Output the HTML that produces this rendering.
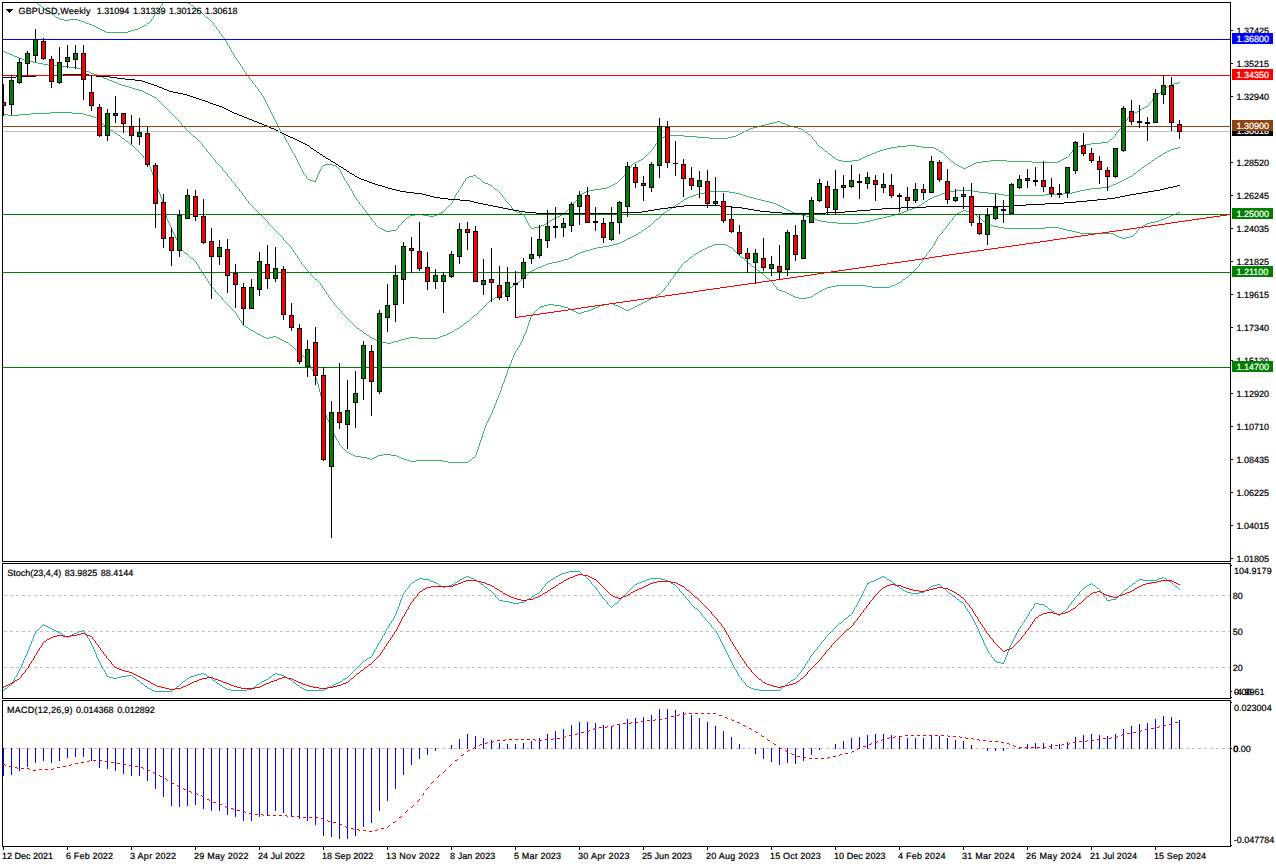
<!DOCTYPE html><html><head><meta charset="utf-8"><title>GBPUSD Weekly</title><style>html,body{margin:0;padding:0;background:#fff;}body{width:1276px;height:867px;overflow:hidden;font-family:"Liberation Sans",sans-serif;}</style></head><body><svg width="1276" height="867" viewBox="0 0 1276 867" shape-rendering="crispEdges" style="display:block">
<rect width="1276" height="867" fill="#fff"/>
<defs><clipPath id="cm"><rect x="3" y="3" width="1227" height="558"/></clipPath><clipPath id="cs"><rect x="3" y="564" width="1227" height="134"/></clipPath><clipPath id="cd"><rect x="3" y="701" width="1227" height="145"/></clipPath></defs>
<g clip-path="url(#cm)">
<path d="M89 24.5h3M81 21.5h3M52 14.5h2M106 32.5h22M58 18.5h2M60 19.5h4M69 19.5h9M96 27.5h2M140 27.5h2M64 20.5h5M78 20.5h3M86 23.5h3M147 23.5h2M102 30.5h2M131 30.5h3M98 28.5h2M138 28.5h2M47 11.5h2M84 22.5h2M104 31.5h2M128 31.5h3M39 5.5h2M44 9.5h2M100 29.5h2M134 29.5h4M92 25.5h2M144 25.5h2M56 17.5h2M94 26.5h2M142 26.5h2M49 12.5h2M153.5 16v2M37.5 3v1M155.5 13v1M157.5 10v2M158.5 9v1M160.5 6v2M162.5 3v2M41.5 6v1M163.5 2v1M51.5 13v1M38.5 4v1M154.5 14v2M54.5 15v1M55.5 16v1M42.5 7v1M43.5 8v1M151.5 19v2M46.5 10v1M146.5 24v1M36.5 2v1M150.5 21v1M152.5 18v1M164.5 1v1M149.5 22v1M156.5 12v1M159.5 8v1M161.5 5v1" fill="none" stroke="#3cb371" stroke-width="1"/>
<path d="M586 191.5h3M478 178.5h2M757 126.5h4M790 126.5h4M541 225.5h3M1091 143.5h10M407 217.5h2M556 217.5h2M765 124.5h4M785 124.5h2M897 146.5h10M916 146.5h6M1078 146.5h3M635 162.5h2M976 162.5h6M1032 162.5h26M744 131.5h2M467 177.5h2M488 184.5h2M613 184.5h2M861 158.5h2M1064 158.5h2M875 152.5h2M941 152.5h2M429 216.5h5M558 216.5h2M386 231.5h5M666 135.5h18M736 135.5h2M378 227.5h2M534 227.5h5M637 161.5h2M842 161.5h10M951 161.5h2M982 161.5h8M1007 161.5h25M1058 161.5h2M753 127.5h4M794 127.5h4M820 147.5h2M891 147.5h6M922 147.5h12M1076 147.5h2M907 145.5h9M1081 145.5h4M740 133.5h2M865 156.5h2M664 136.5h2M684 136.5h13M732 136.5h4M709 138.5h19M773 122.5h4M780 122.5h2M639 160.5h2M838 160.5h4M852 160.5h7M990 160.5h17M1060 160.5h2M1174 83.5h4M439 213.5h2M520 213.5h2M382 229.5h2M961 167.5h2M966 167.5h2M495 189.5h2M594 189.5h7M473 175.5h3M589 190.5h5M582 193.5h2M410 215.5h5M423 215.5h6M434 215.5h3M560 215.5h2M761 125.5h4M787 125.5h3M1142 108.5h2M887 148.5h4M934 148.5h2M1074 148.5h2M963 168.5h3M313 181.5h3M750 128.5h3M798 128.5h3M325 164.5h8M955 164.5h2M972 164.5h2M380 228.5h2M531 228.5h3M609 186.5h2M867 155.5h3M748 129.5h2M801 129.5h2M1085 144.5h6M1158 93.5h2M959 166.5h2M968 166.5h2M633 163.5h2M974 163.5h2M1137 111.5h2M384 230.5h2M391 230.5h5M308 179.5h2M323 165.5h2M333 165.5h3M957 165.5h2M970 165.5h2M825 151.5h2M877 151.5h3M939 151.5h2M1167 86.5h2M833 157.5h2M863 157.5h2M1066 157.5h2M469 176.5h4M662 137.5h2M697 137.5h12M728 137.5h4M415 214.5h8M437 214.5h2M522 214.5h2M562 214.5h2M1101 142.5h7M485 183.5h3M615 183.5h2M601 188.5h6M883 149.5h4M936 149.5h2M441 212.5h2M517 212.5h3M1110 139.5h2M829 154.5h2M870 154.5h2M483 182.5h2M746 130.5h2M1140 109.5h2M539 226.5h2M742 132.5h2M805 132.5h2M641 159.5h2M836 159.5h2M859 159.5h2M1062 159.5h2M769 123.5h4M782 123.5h3M1171 84.5h3M1178 82.5h2M1163 89.5h2M584 192.5h2M195 8.5h2M1130 115.5h2M738 134.5h2M808 134.5h2M1135 112.5h2M515 211.5h2M777 121.5h3M550 220.5h2M490 185.5h2M611 185.5h2M206 17.5h2M554 218.5h2M1144 107.5h2M1132 114.5h2M191 5.5h2M1146 106.5h2M188 3.5h2M310 180.5h3M546 223.5h2M580 194.5h2M1169 85.5h2M544 224.5h2M872 153.5h3M198 10.5h2M607 187.5h2M552 219.5h2M880 150.5h3M458.5 190v2M511.5 206v2M344.5 178v2M1121.5 126v2M288.5 143v2M525.5 217v2M359.5 202v2M622.5 177v1M277.5 124v2M1157.5 94v1M230.5 48v2M340.5 170v2M238.5 61v2M348.5 184v2M1071.5 152v1M369.5 216v1M341.5 172v2M370.5 217v1M234.5 55v2M645.5 156v1M271.5 112v2M1152.5 99v2M1155.5 96v1M274.5 118v2M252.5 81v2M303.5 172v2M564.5 213v1M396.5 229v1M630.5 167v1M256.5 87v1M656.5 143v1M454.5 197v2M351.5 189v2M625.5 173v2M1108.5 141v1M212.5 22v1M284.5 136v2M1124.5 122v2M273.5 116v2M226.5 41v2M461.5 186v1M302.5 170v2M502.5 195v2M229.5 46v2M237.5 60v1M450.5 204v1M945.5 155v1M503.5 197v1M201.5 12v1M812.5 137v2M251.5 80v1M306.5 176v2M241.5 66v1M399.5 225v1M270.5 110v2M465.5 179v2M299.5 164v2M571.5 206v1M255.5 85v2M1120.5 128v1M548.5 222v1M510.5 205v1M819.5 146v1M347.5 183v1M1112.5 138v1M197.5 9v1M350.5 188v1M358.5 201v1M1139.5 110v1M200.5 11v1M453.5 199v2M343.5 176v2M240.5 64v2M660.5 139v1M362.5 206v2M233.5 53v2M944.5 154v1M835.5 158v1M215.5 26v1M236.5 58v2M244.5 70v2M574.5 202v1M373.5 221v1M617.5 182v1M652.5 149v1M317.5 175v3M269.5 108v2M298.5 162v2M506.5 201v1M320.5 169v2M445.5 209v1M457.5 192v1M403.5 221v1M214.5 25v1M513.5 209v1M346.5 181v2M1115.5 134v2M276.5 122v2M566.5 211v1M398.5 226v2M239.5 63v1M811.5 136v1M272.5 114v2M655.5 144v2M644.5 157v1M301.5 168v2M1151.5 101v1M372.5 220v1M243.5 69v1M624.5 175v1M254.5 84v1M305.5 175v1M1123.5 124v1M258.5 89v2M452.5 201v2M360.5 204v1M647.5 154v1M1068.5 156v1M361.5 205v1M807.5 133v1M573.5 203v2M275.5 120v2M1154.5 97v1M304.5 174v1M464.5 181v1M505.5 199v2M319.5 171v2M300.5 166v2M371.5 218v2M268.5 106v2M627.5 171v1M460.5 187v2M187.5 2v1M443.5 211v1M619.5 180v1M316.5 178v2M1161.5 91v1M401.5 223v1M213.5 23v2M242.5 67v2M202.5 13v1M1165.5 88v1M217.5 29v1M246.5 73v2M456.5 193v2M504.5 198v1M375.5 223v2M307.5 178v1M1114.5 136v1M1149.5 103v2M1117.5 132v1M297.5 160v2M257.5 88v1M814.5 140v1M803.5 130v1M261.5 93v2M290.5 147v2M527.5 221v2M293.5 153v1M216.5 27v2M1134.5 113v1M576.5 200v1M654.5 146v1M497.5 190v1M946.5 156v1M813.5 139v1M447.5 207v1M623.5 176v1M405.5 219v1M1122.5 125v1M649.5 152v1M374.5 222v1M267.5 104v2M296.5 158v2M264.5 98v2M568.5 209v1M318.5 173v2M463.5 182v2M260.5 92v1M646.5 155v1M832.5 156v1M289.5 145v2M657.5 142v1M363.5 208v1M245.5 72v1M1148.5 105v1M1125.5 121v1M220.5 33v1M249.5 77v2M322.5 166v1M507.5 202v1M292.5 151v2M194.5 7v1M492.5 186v1M817.5 144v1M295.5 156v2M1156.5 95v1M208.5 18v1M1070.5 153v1M831.5 155v1M514.5 210v1M493.5 187v1M953.5 162v1M653.5 147v2M209.5 19v1M285.5 138v2M1160.5 92v1M400.5 224v1M526.5 219v2M219.5 31v2M466.5 178v1M579.5 195v1M278.5 126v2M281.5 131v2M626.5 172v1M1109.5 140v1M629.5 168v1M193.5 6v1M816.5 142v2M661.5 138v1M481.5 180v1M1113.5 137v1M266.5 102v2M248.5 76v1M462.5 184v2M621.5 178v1M259.5 91v1M377.5 226v1M938.5 150v1M291.5 149v2M528.5 223v2M263.5 96v2M529.5 225v1M449.5 205v1M575.5 201v1M336.5 166v1M365.5 210v2M218.5 30v1M337.5 167v1M632.5 164v1M366.5 212v1M1128.5 117v1M570.5 207v1M203.5 14v1M1116.5 133v1M222.5 36v1M480.5 179v1M499.5 192v1M648.5 153v1M204.5 15v1M815.5 141v1M827.5 152v1M265.5 100v2M376.5 225v1M294.5 154v2M1073.5 149v1M578.5 196v2M262.5 95v1M321.5 167v2M498.5 191v1M364.5 209v1M651.5 150v1M247.5 75v1M947.5 157v1M567.5 210v1M948.5 158v1M1162.5 90v1M402.5 222v1M804.5 131v1M659.5 140v1M565.5 212v1M354.5 195v2M286.5 140v2M628.5 169v2M494.5 188v1M1127.5 118v2M279.5 128v2M210.5 20v1M822.5 148v1M287.5 142v1M524.5 215v2M476.5 176v1M221.5 34v2M280.5 130v1M211.5 21v1M823.5 149v1M1119.5 129v1M444.5 210v1M409.5 216v1M1069.5 154v2M1072.5 150v2M1166.5 87v1M577.5 198v2M620.5 179v1M250.5 79v1M530.5 226v2M509.5 204v1M282.5 133v2M1150.5 102v1M353.5 193v2M397.5 228v1M283.5 135v1M954.5 163v1M357.5 200v1M368.5 214v2M339.5 169v1M224.5 38v2M232.5 52v1M459.5 189v1M508.5 203v1M828.5 153v1M225.5 40v1M818.5 145v1M448.5 206v1M315.5 180v1M631.5 165v2M406.5 218v1M356.5 198v2M643.5 158v1M455.5 195v2M349.5 186v2M1118.5 130v2M1153.5 98v1M549.5 221v1M352.5 191v2M569.5 208v1M231.5 50v2M342.5 174v2M345.5 180v1M943.5 153v1M227.5 43v2M338.5 168v1M235.5 57v1M367.5 213v1M451.5 203v1M482.5 181v1M228.5 45v1M949.5 159v1M205.5 16v1M658.5 141v1M253.5 83v1M950.5 160v1M572.5 205v1M618.5 181v1M650.5 151v1M512.5 208v1M190.5 4v1M404.5 220v1M824.5 150v1M223.5 37v1M500.5 193v1M501.5 194v1M810.5 135v1M1126.5 120v1M1129.5 116v1M477.5 177v1M446.5 208v1M355.5 197v1" fill="none" stroke="#3cb371" stroke-width="1"/>
<path d="M450 332.5h2M817 220.5h4M870 220.5h4M1101 187.5h8M77 68.5h4M678 203.5h2M773 203.5h3M922 203.5h2M33 62.5h5M827 222.5h10M859 222.5h6M474 315.5h2M1145 165.5h2M693 195.5h3M743 195.5h3M937 195.5h3M1004 195.5h41M1142 167.5h2M670 208.5h2M784 208.5h2M912 208.5h3M704 192.5h6M729 192.5h6M946 192.5h4M979 192.5h9M1072 192.5h4M1130 176.5h2M810 217.5h2M883 217.5h4M552 262.5h5M696 194.5h3M740 194.5h3M940 194.5h2M998 194.5h6M1045 194.5h18M603 246.5h6M686 198.5h2M753 198.5h4M930 198.5h2M794 213.5h4M898 213.5h3M1091 188.5h10M81 69.5h3M837 223.5h22M370 337.5h2M409 337.5h9M438 337.5h2M576 254.5h2M628 238.5h2M1134 173.5h2M1126 178.5h2M10 54.5h2M586 250.5h4M1158 156.5h2M460 326.5h2M798 214.5h4M895 214.5h3M681 201.5h2M765 201.5h4M925 201.5h2M1138 170.5h2M372 338.5h2M405 338.5h4M418 338.5h20M645 228.5h2M673 206.5h2M780 206.5h2M917 206.5h2M387 343.5h4M710 191.5h19M950 191.5h5M973 191.5h6M1076 191.5h4M806 216.5h4M887 216.5h4M89 72.5h2M5 52.5h2M676 204.5h2M776 204.5h2M38 63.5h5M48 65.5h9M802 215.5h4M891 215.5h4M378 341.5h4M394 341.5h4M684 199.5h2M757 199.5h4M928 199.5h2M84 70.5h2M597 247.5h6M43 64.5h5M57 66.5h12M24 60.5h4M14 56.5h3M580 252.5h3M129 87.5h3M955 190.5h18M1080 190.5h5M613 244.5h4M761 200.5h4M812 218.5h3M878 218.5h5M17 57.5h2M452 331.5h2M7 53.5h3M821 221.5h6M865 221.5h5M69 67.5h8M572 256.5h2M624 240.5h2M132 88.5h3M464 323.5h2M699 193.5h5M735 193.5h5M942 193.5h4M988 193.5h10M1063 193.5h9M1122 180.5h2M357 328.5h2M457 328.5h2M364 333.5h2M448 333.5h2M642 230.5h2M634 235.5h2M1128 177.5h2M12 55.5h2M538 267.5h3M99 76.5h3M376 340.5h2M398 340.5h3M440 336.5h3M1171 149.5h3M564 259.5h4M495 297.5h2M593 248.5h4M28 61.5h5M91 73.5h3M561 260.5h3M507 289.5h2M152 96.5h2M543 265.5h3M144 92.5h2M500 294.5h2M492 299.5h2M690 196.5h3M746 196.5h3M934 196.5h3M94 74.5h3M135 89.5h4M1109 186.5h2M86 71.5h3M568 258.5h2M778 205.5h2M919 205.5h2M148 94.5h2M548 263.5h4M139 90.5h3M1118 182.5h2M632 236.5h2M367 335.5h2M443 335.5h3M630 237.5h2M1178 147.5h2M790 211.5h2M904 211.5h3M1124 179.5h2M534 269.5h2M1160 155.5h2M114 82.5h3M104 78.5h3M557 261.5h4M664 212.5h2M792 212.5h2M901 212.5h3M107 79.5h2M530 271.5h2M583 251.5h3M1085 189.5h6M609 245.5h4M109 80.5h3M382 342.5h5M391 342.5h3M154 97.5h2M656 219.5h2M815 219.5h2M874 219.5h4M688 197.5h2M749 197.5h4M932 197.5h2M769 202.5h4M102 77.5h2M782 207.5h2M915 207.5h2M112 81.5h2M626 239.5h2M1120 181.5h2M786 209.5h2M909 209.5h3M622 241.5h2M1116 183.5h2M1148 163.5h2M117 83.5h2M467 321.5h2M590 249.5h3M524 276.5h2M636 234.5h2M315 279.5h2M541 266.5h2M648 226.5h2M490 300.5h2M125 86.5h4M1174 148.5h4M1169 150.5h2M536 268.5h2M517 282.5h2M570 257.5h2M455 329.5h2M514 284.5h2M119 84.5h3M1155 158.5h2M446 334.5h2M617 243.5h3M360 330.5h2M667 210.5h2M788 210.5h2M907 210.5h2M122 85.5h3M3 51.5h2M510 287.5h2M1167 151.5h2M532 270.5h2M1111 185.5h2M22 59.5h2M374 339.5h2M401 339.5h4M620 242.5h2M97 75.5h2M1163 153.5h2M19 58.5h3M504 291.5h2M1113 184.5h3M146 93.5h2M578 253.5h2M150 95.5h2M142 91.5h2M639 232.5h2M1152 160.5h2M574 255.5h2M193 136.5h2M1165 152.5h2M546 264.5h2M497 296.5h2M655.5 220v1M278.5 233v1M348.5 319v1M219.5 165v1M182.5 125v1M330.5 298v2M659.5 217v1M263.5 217v1M242.5 193v2M1154.5 159v1M311.5 275v1M183.5 126v1M189.5 132v1M201.5 143v1M340.5 310v1M190.5 133v1M519.5 281v1M212.5 157v1M175.5 117v1M241.5 192v1M310.5 273v2M222.5 168v2M223.5 170v1M252.5 206v1M650.5 225v1M355.5 326v1M469.5 320v1M156.5 98v1M229.5 177v1M347.5 318v1M230.5 178v1M369.5 336v1M299.5 259v2M240.5 191v1M488.5 302v1M303.5 265v1M332.5 301v1M215.5 160v2M523.5 277v1M354.5 325v1M472.5 317v1M251.5 205v1M476.5 314v1M281.5 236v1M203.5 146v1M1133.5 174v1M204.5 147v1M661.5 215v1M273.5 228v1M288.5 244v1M317.5 280v1M1137.5 171v1M258.5 212v1M654.5 221v1M318.5 281v1M1141.5 168v1M259.5 213v1M527.5 274v1M163.5 105v1M243.5 195v1M196.5 138v1M265.5 219v1M244.5 196v1M502.5 293v1M924.5 202v1M494.5 298v1M185.5 128v1M483.5 307v1M266.5 220v1M506.5 290v1M170.5 112v1M232.5 181v1M162.5 104v1M459.5 327v1M669.5 209v1M233.5 182v1M195.5 137v1M214.5 159v1M177.5 119v1M306.5 269v1M335.5 305v1M169.5 111v1M280.5 235v1M350.5 321v1M312.5 276v1M221.5 167v1M184.5 127v1M521.5 279v1M313.5 277v1M342.5 313v1M641.5 231v1M206.5 149v2M191.5 134v1M463.5 324v1M301.5 262v2M349.5 320v1M291.5 247v2M320.5 283v2M213.5 158v1M478.5 312v1M305.5 267v2M334.5 303v2M652.5 223v1M471.5 318v1M356.5 327v1M268.5 222v2M341.5 311v2M224.5 171v1M253.5 207v1M231.5 179v2M254.5 208v1M176.5 118v1M158.5 100v1M235.5 184v2M319.5 282v1M260.5 214v1M333.5 302v1M261.5 215v1M165.5 107v1M663.5 213v1M283.5 238v2M246.5 199v1M683.5 200v1M1147.5 164v1M675.5 205v1M198.5 140v1M157.5 99v1M1151.5 161v1M289.5 245v1M1132.5 175v1M529.5 272v1M172.5 114v1M205.5 148v1M290.5 246v1M274.5 229v1M293.5 250v2M512.5 286v1M164.5 106v1M275.5 230v1M304.5 266v1M323.5 288v1M245.5 197v2M216.5 162v1M485.5 305v1M516.5 283v1M197.5 139v1M482.5 308v1M520.5 280v1M282.5 237v1M314.5 278v1M267.5 221v1M344.5 315v1M227.5 174v2M473.5 316v1M462.5 325v1M454.5 330v1M658.5 218v1M647.5 227v1M322.5 286v2M234.5 183v1M651.5 224v1M326.5 292v2M307.5 270v1M336.5 306v1M248.5 201v2M186.5 129v1M366.5 334v1M337.5 307v1M249.5 203v1M171.5 113v1M343.5 314v1M480.5 310v1M477.5 313v1M329.5 297v1M208.5 152v1M256.5 210v1M178.5 120v1M351.5 322v1M362.5 331v1M489.5 301v1M285.5 241v1M269.5 224v1M207.5 151v1M487.5 303v1M270.5 225v1M192.5 135v1M499.5 295v1M292.5 249v1M321.5 285v1M255.5 209v1M295.5 253v2M324.5 289v2M236.5 186v1M1157.5 157v1M296.5 255v1M325.5 291v1M662.5 214v1M237.5 187v1M277.5 232v1M218.5 164v1M262.5 216v1M1150.5 162v1M284.5 240v1M225.5 172v1M653.5 222v1M226.5 173v1M503.5 292v1M159.5 101v1M484.5 306v1M210.5 154v2M328.5 295v2M211.5 156v1M181.5 123v2M217.5 163v1M166.5 108v1M247.5 200v1M167.5 109v1M199.5 141v1M660.5 216v1M200.5 142v1M339.5 309v1M1136.5 172v1M173.5 115v1M638.5 233v1M522.5 278v1M345.5 316v1M294.5 252v1M174.5 116v1M526.5 275v1M346.5 317v1M276.5 231v1M327.5 294v1M298.5 258v1M239.5 189v2M352.5 323v1M331.5 300v1M353.5 324v1M479.5 311v1M187.5 130v1M338.5 308v1M250.5 204v1M188.5 131v1M1140.5 169v1M228.5 176v1M466.5 322v1M680.5 202v1M1144.5 166v1M672.5 207v1M302.5 264v1M179.5 121v1M927.5 200v1M308.5 271v1M644.5 229v1M180.5 122v1M509.5 288v1M309.5 272v1M486.5 304v1M513.5 285v1M202.5 144v2M286.5 242v1M470.5 319v1M297.5 256v2M287.5 243v1M160.5 102v1M209.5 153v1M257.5 211v1M161.5 103v1M272.5 227v1M363.5 332v1M264.5 218v1M1162.5 154v1M279.5 234v1M168.5 110v1M528.5 273v1M220.5 166v1M921.5 204v1M271.5 226v1M481.5 309v1M359.5 329v1M666.5 211v1M300.5 261v1M238.5 188v1" fill="none" stroke="#3cb371" stroke-width="1"/>
<path d="M895 284.5h2M827 287.5h4M872 287.5h18M31 113.5h19M72 113.5h12M353 455.5h2M378 455.5h5M391 455.5h6M1004 228.5h41M1059 228.5h4M548 304.5h6M604 304.5h5M613 304.5h2M639 304.5h2M906 277.5h2M407 460.5h3M416 460.5h27M469 460.5h2M8 115.5h11M87 115.5h4M787 293.5h2M816 293.5h2M831 286.5h5M866 286.5h6M890 286.5h2M256 333.5h2M264 337.5h2M269 337.5h4M276 337.5h2M370 459.5h2M404 459.5h3M963 210.5h3M568 308.5h2M593 308.5h2M622 308.5h2M631 308.5h2M777 289.5h2M823 289.5h2M998 227.5h6M1045 227.5h14M1140 227.5h2M690 257.5h2M741 257.5h2M574 311.5h2M584 311.5h4M351 454.5h2M383 454.5h8M576 312.5h2M581 312.5h3M957 213.5h2M1176 213.5h2M643 302.5h2M1122 238.5h4M191 258.5h2M539 307.5h2M564 307.5h4M595 307.5h3M620 307.5h2M633 307.5h2M570 309.5h2M591 309.5h2M624 309.5h2M629 309.5h2M705 248.5h2M714 244.5h12M130 144.5h2M703 249.5h2M651 298.5h2M799 298.5h8M262 336.5h2M273 336.5h3M3 114.5h5M19 114.5h12M84 114.5h3M993 226.5h5M355 456.5h6M376 456.5h2M397 456.5h2M987 223.5h2M1147 223.5h3M1072 231.5h4M541 306.5h3M561 306.5h3M598 306.5h2M618 306.5h2M635 306.5h2M985 222.5h2M1150 222.5h5M897 283.5h2M361 457.5h6M374 457.5h2M399 457.5h2M473 457.5h2M544 305.5h4M554 305.5h7M600 305.5h4M615 305.5h3M637 305.5h2M448 462.5h20M685 261.5h2M709 246.5h3M728 246.5h2M836 285.5h30M892 285.5h3M367 458.5h3M372 458.5h2M401 458.5h3M757 270.5h2M645 301.5h2M1169 216.5h2M572 310.5h2M588 310.5h3M626 310.5h3M1113 234.5h2M1080 233.5h33M1076 232.5h4M959 212.5h2M970 212.5h3M1178 212.5h2M707 247.5h2M730 247.5h2M50 112.5h22M290 345.5h2M903 279.5h2M785 292.5h2M782 291.5h3M819 291.5h2M266 338.5h3M278 338.5h2M1171 215.5h2M282 340.5h2M991 225.5h2M1143 225.5h2M761 273.5h2M712 245.5h2M726 245.5h2M752 266.5h2M286 342.5h2M658 294.5h2M789 294.5h2M814 294.5h2M1063 229.5h4M979 218.5h2M1164 218.5h2M1161 219.5h3M793 296.5h2M811 296.5h2M578 313.5h3M983 221.5h2M1155 221.5h4M961 211.5h2M966 211.5h4M974 214.5h2M1173 214.5h3M1067 230.5h5M825 288.5h2M699 251.5h2M410 461.5h6M443 461.5h5M779 290.5h3M821 290.5h2M258 334.5h2M701 250.5h2M653 297.5h2M795 297.5h4M807 297.5h4M284 341.5h2M767 278.5h2M748 263.5h2M609 303.5h4M641 303.5h2M253 331.5h2M246 327.5h2M1166 217.5h3M1119 237.5h3M1126 237.5h4M694 254.5h2M185 253.5h2M696 253.5h2M1159 220.5h2M649 299.5h2M296 350.5h2M280 339.5h2M1117 236.5h2M1130 236.5h3M251 330.5h2M94 117.5h2M1115 235.5h2M899 282.5h2M260 335.5h2M98 120.5h2M249 329.5h2M656 295.5h2M791 295.5h2M91 116.5h3M244 326.5h2M647 300.5h2M349 453.5h2M108 128.5h2M126 141.5h2M104 125.5h2M122 138.5h2M347 452.5h2M989 224.5h2M1145 224.5h2M115 133.5h2M111 130.5h2M118 135.5h2M155.5 181v3M294.5 348v1M326.5 415v3M136.5 149v1M502.5 384v3M477.5 449v3M939.5 235v1M668.5 283v2M179.5 244v2M336.5 438v2M506.5 373v3M481.5 437v3M208.5 281v2M531.5 315v2M763.5 274v1M680.5 267v1M527.5 326v3M955.5 215v1M337.5 440v1M513.5 355v3M340.5 445v1M219.5 295v1M143.5 156v2M234.5 311v1M333.5 432v2M165.5 211v4M526.5 329v3M158.5 189v3M493.5 408v2M530.5 317v3M147.5 162v2M323.5 404v3M121.5 137v1M168.5 221v2M660.5 293v1M319.5 388v4M329.5 422v3M935.5 241v2M309.5 363v2M1136.5 231v2M102.5 123v1M510.5 363v2M312.5 369v2M322.5 400v4M211.5 286v1M525.5 332v2M182.5 250v1M154.5 178v3M683.5 263v1M103.5 124v1M492.5 410v3M212.5 287v1M183.5 251v1M164.5 207v4M538.5 308v1M687.5 260v1M919.5 264v2M505.5 376v3M931.5 248v1M160.5 194v3M237.5 315v2M485.5 425v3M316.5 378v3M150.5 167v2M509.5 365v3M289.5 344v1M238.5 317v1M171.5 227v3M744.5 259v1M241.5 321v2M476.5 452v3M488.5 419v2M146.5 161v1M311.5 367v2M926.5 254v2M222.5 298v2M314.5 373v3M480.5 440v3M973.5 213v1M504.5 379v3M759.5 271v1M193.5 259v1M770.5 280v1M520.5 343v2M318.5 384v4M529.5 320v3M308.5 361v2M178.5 242v2M132.5 145v1M153.5 175v3M922.5 260v2M934.5 243v2M671.5 279v1M674.5 275v1M946.5 226v2M339.5 443v2M949.5 222v2M501.5 387v3M332.5 430v2M516.5 350v1M236.5 313v2M117.5 134v1M149.5 165v2M743.5 258v1M157.5 187v2M139.5 152v1M346.5 451v1M167.5 219v2M300.5 353v1M732.5 248v1M170.5 225v2M484.5 428v3M755.5 268v1M189.5 256v1M163.5 203v4M533.5 313v1M733.5 249v1M914.5 270v1M769.5 279v1M500.5 390v3M181.5 248v2M255.5 332v1M938.5 236v1M479.5 443v3M307.5 360v1M177.5 240v2M471.5 459v1M325.5 411v4M483.5 431v3M229.5 306v1M740.5 256v1M335.5 436v2M475.5 455v2M487.5 421v2M239.5 318v2M754.5 267v1M765.5 276v1M1135.5 233v1M331.5 427v3M240.5 320v1M243.5 325v1M766.5 277v1M524.5 334v2M324.5 407v4M156.5 184v3M491.5 413v2M528.5 323v3M670.5 280v2M310.5 365v2M508.5 368v2M682.5 264v1M523.5 336v3M818.5 292v1M295.5 349v1M321.5 396v4M739.5 255v1M905.5 278v1M925.5 256v1M750.5 264v1M662.5 291v1M665.5 287v1M138.5 151v1M317.5 381v3M174.5 234v2M503.5 382v2M764.5 275v1M909.5 275v1M159.5 192v2M214.5 289v1M338.5 441v2M188.5 255v1M1142.5 226v1M507.5 370v3M519.5 345v2M499.5 393v2M221.5 297v1M937.5 237v2M478.5 446v3M673.5 276v2M689.5 258v1M166.5 215v4M515.5 351v2M693.5 255v1M921.5 262v1M180.5 246v2M199.5 267v2M933.5 245v1M945.5 228v1M152.5 172v3M184.5 252v1M341.5 446v1M213.5 288v1M242.5 323v2M916.5 268v1M173.5 232v2M490.5 415v2M334.5 434v2M952.5 218v2M342.5 447v1M482.5 434v3M486.5 423v2M746.5 261v1M162.5 199v4M498.5 395v3M924.5 257v2M224.5 301v1M760.5 272v1M194.5 260v1M176.5 238v2M195.5 261v1M772.5 282v1M198.5 265v2M1134.5 234v1M535.5 311v1M320.5 392v4M172.5 230v2M511.5 360v3M745.5 260v1M913.5 271v1M940.5 234v1M223.5 300v1M302.5 355v1M771.5 281v1M734.5 250v1M133.5 146v1M948.5 224v1M661.5 292v1M114.5 132v1M175.5 236v2M1137.5 230v1M231.5 308v1M202.5 272v1M215.5 290v2M518.5 347v1M216.5 292v1M943.5 230v1M140.5 153v1M301.5 354v1M151.5 169v3M681.5 265v2M756.5 269v1M190.5 257v1M522.5 339v2M684.5 262v1M932.5 246v2M330.5 425v2M669.5 282v1M514.5 353v2M664.5 288v2M667.5 285v1M676.5 272v1M679.5 268v1M911.5 273v1M951.5 220v1M954.5 216v1M248.5 328v1M113.5 131v1M197.5 264v1M908.5 276v1M774.5 285v1M230.5 307v1M201.5 270v2M161.5 197v2M315.5 376v2M128.5 142v1M688.5 259v1M344.5 449v1M129.5 143v1M497.5 398v2M110.5 129v1M537.5 309v1M489.5 417v2M918.5 266v1M196.5 262v2M927.5 253v1M930.5 249v1M751.5 265v1M942.5 231v2M521.5 341v2M468.5 461v1M343.5 448v1M981.5 219v1M675.5 273v2M517.5 348v2M773.5 283v2M496.5 400v3M200.5 269v1M736.5 252v1M203.5 273v2M534.5 312v1M124.5 139v1M915.5 269v1M135.5 148v1M204.5 275v1M655.5 296v1M678.5 269v2M532.5 314v1M472.5 458v1M902.5 280v1M218.5 294v1M303.5 356v1M512.5 358v2M747.5 262v1M663.5 290v1M1139.5 228v1M304.5 357v1M225.5 302v1M950.5 221v1M120.5 136v1M226.5 303v1M134.5 147v1M976.5 215v1M101.5 122v1M207.5 279v2M776.5 287v2M210.5 284v2M977.5 216v1M232.5 309v1M698.5 252v1M737.5 253v1M233.5 310v1M217.5 293v1M929.5 250v2M666.5 286v1M956.5 214v1M495.5 403v2M910.5 274v1M142.5 155v1M953.5 217v1M735.5 251v1M328.5 420v2M292.5 346v1M494.5 405v3M206.5 278v1M141.5 154v1M145.5 159v2M536.5 310v1M345.5 450v1M288.5 343v1M917.5 267v1M97.5 119v1M813.5 295v1M100.5 121v1M941.5 233v1M327.5 418v2M775.5 286v1M936.5 239v2M205.5 276v2M298.5 351v1M672.5 278v1M692.5 256v1M920.5 263v1M299.5 352v1M169.5 223v2M144.5 158v1M982.5 220v1M313.5 371v2M944.5 229v1M306.5 359v1M227.5 304v1M209.5 283v1M228.5 305v1M125.5 140v1M912.5 272v1M978.5 217v1M901.5 281v1M738.5 254v1M106.5 126v1M137.5 150v1M677.5 271v1M96.5 118v1M928.5 252v1M107.5 127v1M1138.5 229v1M187.5 254v1M235.5 312v1M923.5 259v1M148.5 164v1M220.5 296v1M947.5 225v1M1133.5 235v1M293.5 347v1M305.5 358v1" fill="none" stroke="#3cb371" stroke-width="1"/>
<path d="M478 203.5h5M1045 203.5h19M536 213.5h86M782 213.5h44M375 184.5h3M525 212.5h11M622 212.5h20M770 212.5h12M826 212.5h19M460 200.5h10M1087 200.5h10M493 206.5h5M676 206.5h8M720 206.5h12M926 206.5h88M36 75.5h27M89 75.5h7M117 78.5h8M488 205.5h5M684 205.5h36M1014 205.5h12M414 193.5h8M1136 193.5h6M440 198.5h8M1107 198.5h8M16 76.5h20M96 76.5h14M483 204.5h5M1026 204.5h19M367 181.5h2M470 201.5h4M1076 201.5h11M125 79.5h10M422 194.5h4M1130 194.5h6M213 104.5h3M63 74.5h26M503 208.5h5M660 208.5h8M742 208.5h6M882 208.5h19M239 115.5h3M434 197.5h6M1115 197.5h5M508 209.5h5M654 209.5h6M748 209.5h6M870 209.5h12M178 93.5h5M385 187.5h3M1168 187.5h5M159 87.5h3M448 199.5h12M1097 199.5h10M519 211.5h6M642 211.5h6M760 211.5h10M845 211.5h12M232 112.5h2M224 108.5h2M513 210.5h6M648 210.5h6M754 210.5h6M857 210.5h13M151 84.5h3M183 94.5h4M216 105.5h3M382 186.5h3M1173 186.5h4M339 166.5h2M498 207.5h5M668 207.5h8M732 207.5h10M901 207.5h25M400 191.5h6M1148 191.5h6M164 89.5h3M378 185.5h4M1177 185.5h3M154 85.5h3M474 202.5h4M1064 202.5h12M341 167.5h2M228 110.5h2M219 106.5h3M3 77.5h13M110 77.5h7M157 86.5h2M426 195.5h4M1125 195.5h5M242 116.5h2M392 189.5h4M1160 189.5h4M336 164.5h2M317 152.5h2M187 95.5h3M167 90.5h2M311 148.5h2M190 96.5h3M406 192.5h8M1142 192.5h6M162 88.5h2M249 119.5h3M396 190.5h4M1154 190.5h6M135 80.5h7M252 120.5h2M254 121.5h3M244 117.5h3M193 97.5h3M247 118.5h2M257 122.5h2M196 98.5h3M331 161.5h2M295 139.5h2M169 91.5h4M264 125.5h3M388 188.5h4M1164 188.5h4M305 144.5h2M369 182.5h3M297 140.5h2M173 92.5h5M328 159.5h2M267 126.5h2M299 141.5h2M361 179.5h3M290 137.5h3M259 123.5h3M301 142.5h2M364 180.5h3M293 138.5h2M430 196.5h4M1120 196.5h5M357 177.5h2M286 135.5h2M350 173.5h2M278 131.5h2M280 132.5h2M271 128.5h3M199 99.5h3M323 156.5h2M282 133.5h2M274 129.5h2M276 130.5h2M142 81.5h3M372 183.5h3M208 102.5h2M320 154.5h2M145 82.5h3M210 103.5h3M148 83.5h3M202 100.5h3M205 101.5h3M344 169.5h2M222 107.5h2M314 150.5h2M234 113.5h3M237 114.5h2M226 109.5h2M333 162.5h2M307 145.5h2M269 127.5h2M262 124.5h2M303 143.5h2M359 178.5h2M288 136.5h2M352 174.5h2M355 176.5h2M284 134.5h2M326 158.5h2M347 171.5h2M230 111.5h2M335.5 163v1M322.5 155v1M354.5 175v1M309.5 146v1M346.5 170v1M330.5 160v1M316.5 151v1M325.5 157v1M319.5 153v1M338.5 165v1M310.5 147v1M343.5 168v1M313.5 149v1M349.5 172v1" fill="none" stroke="#000" stroke-width="1"/>
<rect x="3" y="131" width="1227" height="1" fill="#c0c0c0" stroke="none" />
<rect x="3" y="39" width="1227" height="1" fill="#0000ff" stroke="none" />
<rect x="3" y="75" width="1227" height="1" fill="#ff0000" stroke="none" />
<rect x="3" y="126" width="1227" height="1" fill="#8b4513" stroke="none" />
<rect x="3" y="214" width="1227" height="1" fill="#008000" stroke="none" />
<rect x="3" y="272" width="1227" height="1" fill="#008000" stroke="none" />
<rect x="3" y="367" width="1227" height="1" fill="#008000" stroke="none" />
<path d="M693 291.5h6M540 313.5h7M741 284.5h7M811 274.5h6M658 296.5h7M859 267.5h7M977 250.5h7M1199 218.5h7M1074 236.5h7M561 310.5h7M679 293.5h7M526 315.5h7M748 283.5h7M949 254.5h7M1067 237.5h7M623 301.5h7M727 286.5h7M824 272.5h7M845 269.5h7M1047 240.5h6M1165 223.5h6M568 309.5h7M595 305.5h7M515 317.5h4M713 288.5h7M817 273.5h7M935 256.5h7M1033 242.5h7M1137 227.5h7M1053 239.5h7M1102 232.5h7M1081 235.5h7M588 306.5h7M686 292.5h7M790 277.5h7M602 304.5h7M706 289.5h7M804 275.5h7M908 260.5h7M922 258.5h7M1026 243.5h7M1144 226.5h7M734 285.5h7M852 268.5h7M970 251.5h7M1171 222.5h7M1088 234.5h7M575 308.5h6M797 276.5h7M915 259.5h7M672 294.5h7M720 287.5h7M838 270.5h7M942 255.5h7M956 253.5h7M1060 238.5h7M1178 221.5h7M644 298.5h7M762 281.5h7M609 303.5h7M831 271.5h7M929 257.5h6M1151 225.5h7M533 314.5h7M651 297.5h7M699 290.5h7M901 261.5h7M998 247.5h7M1116 230.5h7M963 252.5h7M1185 220.5h7M547 312.5h7M665 295.5h7M769 280.5h7M887 263.5h7M991 248.5h7M1005 246.5h7M1109 231.5h7M1123 229.5h7M554 311.5h7M755 282.5h7M776 279.5h7M873 265.5h7M581 307.5h7M1040 241.5h7M894 262.5h7M1012 245.5h7M1130 228.5h7M1158 224.5h7M783 278.5h7M984 249.5h7M1220 215.5h7M880 264.5h7M630 300.5h7M1019 244.5h7M519 316.5h7M637 299.5h7M1227 214.5h4M1206 217.5h7M1095 233.5h7M1213 216.5h7M866 266.5h7M616 302.5h7M1192 219.5h7" fill="none" stroke="#ff0000" stroke-width="1"/>
<rect x="3" y="84" width="1" height="32" fill="#000" stroke="none"/>
<rect x="1" y="102" width="5" height="4" fill="#000"/>
<rect x="2" y="103" width="3" height="2" fill="#ff0000"/>
<rect x="11" y="75" width="1" height="40" fill="#000" stroke="none"/>
<rect x="9" y="80" width="5" height="25" fill="#000"/>
<rect x="10" y="81" width="3" height="23" fill="#008000"/>
<rect x="19" y="58" width="1" height="26" fill="#000" stroke="none"/>
<rect x="17" y="62" width="5" height="21" fill="#000"/>
<rect x="18" y="63" width="3" height="19" fill="#008000"/>
<rect x="27" y="51" width="1" height="25" fill="#000" stroke="none"/>
<rect x="25" y="53" width="5" height="11" fill="#000"/>
<rect x="26" y="54" width="3" height="9" fill="#008000"/>
<rect x="35" y="29" width="1" height="33" fill="#000" stroke="none"/>
<rect x="33" y="39" width="5" height="17" fill="#000"/>
<rect x="34" y="40" width="3" height="15" fill="#008000"/>
<rect x="43" y="38" width="1" height="22" fill="#000" stroke="none"/>
<rect x="41" y="41" width="5" height="18" fill="#000"/>
<rect x="42" y="42" width="3" height="16" fill="#ff0000"/>
<rect x="51" y="56" width="1" height="32" fill="#000" stroke="none"/>
<rect x="49" y="59" width="5" height="23" fill="#000"/>
<rect x="50" y="60" width="3" height="21" fill="#ff0000"/>
<rect x="59" y="47" width="1" height="37" fill="#000" stroke="none"/>
<rect x="57" y="62" width="5" height="21" fill="#000"/>
<rect x="58" y="63" width="3" height="19" fill="#008000"/>
<rect x="67" y="45" width="1" height="23" fill="#000" stroke="none"/>
<rect x="65" y="57" width="5" height="5" fill="#000"/>
<rect x="66" y="58" width="3" height="3" fill="#008000"/>
<rect x="75" y="45" width="1" height="24" fill="#000" stroke="none"/>
<rect x="73" y="53" width="5" height="7" fill="#000"/>
<rect x="74" y="54" width="3" height="5" fill="#008000"/>
<rect x="83" y="45" width="1" height="55" fill="#000" stroke="none"/>
<rect x="81" y="53" width="5" height="27" fill="#000"/>
<rect x="82" y="54" width="3" height="25" fill="#ff0000"/>
<rect x="91" y="75" width="1" height="36" fill="#000" stroke="none"/>
<rect x="89" y="92" width="5" height="14" fill="#000"/>
<rect x="90" y="93" width="3" height="12" fill="#ff0000"/>
<rect x="99" y="104" width="1" height="33" fill="#000" stroke="none"/>
<rect x="97" y="107" width="5" height="29" fill="#000"/>
<rect x="98" y="108" width="3" height="27" fill="#ff0000"/>
<rect x="107" y="109" width="1" height="32" fill="#000" stroke="none"/>
<rect x="105" y="113" width="5" height="23" fill="#000"/>
<rect x="106" y="114" width="3" height="21" fill="#008000"/>
<rect x="115" y="96" width="1" height="27" fill="#000" stroke="none"/>
<rect x="113" y="113" width="5" height="3" fill="#000"/>
<rect x="114" y="114" width="3" height="1" fill="#008000"/>
<rect x="123" y="113" width="1" height="20" fill="#000" stroke="none"/>
<rect x="121" y="113" width="5" height="11" fill="#000"/>
<rect x="122" y="114" width="3" height="9" fill="#ff0000"/>
<rect x="131" y="115" width="1" height="29" fill="#000" stroke="none"/>
<rect x="129" y="126" width="5" height="10" fill="#000"/>
<rect x="130" y="127" width="3" height="8" fill="#ff0000"/>
<rect x="139" y="118" width="1" height="27" fill="#000" stroke="none"/>
<rect x="137" y="132" width="5" height="5" fill="#000"/>
<rect x="138" y="133" width="3" height="3" fill="#008000"/>
<rect x="147" y="127" width="1" height="40" fill="#000" stroke="none"/>
<rect x="145" y="133" width="5" height="32" fill="#000"/>
<rect x="146" y="134" width="3" height="30" fill="#ff0000"/>
<rect x="155" y="163" width="1" height="65" fill="#000" stroke="none"/>
<rect x="153" y="165" width="5" height="39" fill="#000"/>
<rect x="154" y="166" width="3" height="37" fill="#ff0000"/>
<rect x="163" y="194" width="1" height="54" fill="#000" stroke="none"/>
<rect x="161" y="202" width="5" height="37" fill="#000"/>
<rect x="162" y="203" width="3" height="35" fill="#ff0000"/>
<rect x="171" y="228" width="1" height="38" fill="#000" stroke="none"/>
<rect x="169" y="237" width="5" height="14" fill="#000"/>
<rect x="170" y="238" width="3" height="12" fill="#ff0000"/>
<rect x="179" y="210" width="1" height="47" fill="#000" stroke="none"/>
<rect x="177" y="215" width="5" height="36" fill="#000"/>
<rect x="178" y="216" width="3" height="34" fill="#008000"/>
<rect x="187" y="189" width="1" height="30" fill="#000" stroke="none"/>
<rect x="185" y="195" width="5" height="24" fill="#000"/>
<rect x="186" y="196" width="3" height="22" fill="#008000"/>
<rect x="195" y="190" width="1" height="31" fill="#000" stroke="none"/>
<rect x="193" y="196" width="5" height="21" fill="#000"/>
<rect x="194" y="197" width="3" height="19" fill="#ff0000"/>
<rect x="203" y="199" width="1" height="45" fill="#000" stroke="none"/>
<rect x="201" y="216" width="5" height="27" fill="#000"/>
<rect x="202" y="217" width="3" height="25" fill="#ff0000"/>
<rect x="211" y="228" width="1" height="71" fill="#000" stroke="none"/>
<rect x="209" y="241" width="5" height="16" fill="#000"/>
<rect x="210" y="242" width="3" height="14" fill="#ff0000"/>
<rect x="219" y="240" width="1" height="25" fill="#000" stroke="none"/>
<rect x="217" y="247" width="5" height="10" fill="#000"/>
<rect x="218" y="248" width="3" height="8" fill="#008000"/>
<rect x="227" y="239" width="1" height="54" fill="#000" stroke="none"/>
<rect x="225" y="249" width="5" height="27" fill="#000"/>
<rect x="226" y="250" width="3" height="25" fill="#ff0000"/>
<rect x="235" y="264" width="1" height="44" fill="#000" stroke="none"/>
<rect x="233" y="273" width="5" height="12" fill="#000"/>
<rect x="234" y="274" width="3" height="10" fill="#ff0000"/>
<rect x="243" y="283" width="1" height="42" fill="#000" stroke="none"/>
<rect x="241" y="287" width="5" height="22" fill="#000"/>
<rect x="242" y="288" width="3" height="20" fill="#ff0000"/>
<rect x="251" y="279" width="1" height="30" fill="#000" stroke="none"/>
<rect x="249" y="287" width="5" height="22" fill="#000"/>
<rect x="250" y="288" width="3" height="20" fill="#008000"/>
<rect x="259" y="252" width="1" height="44" fill="#000" stroke="none"/>
<rect x="257" y="261" width="5" height="29" fill="#000"/>
<rect x="258" y="262" width="3" height="27" fill="#008000"/>
<rect x="267" y="245" width="1" height="44" fill="#000" stroke="none"/>
<rect x="265" y="264" width="5" height="15" fill="#000"/>
<rect x="266" y="265" width="3" height="13" fill="#ff0000"/>
<rect x="275" y="247" width="1" height="35" fill="#000" stroke="none"/>
<rect x="273" y="268" width="5" height="11" fill="#000"/>
<rect x="274" y="269" width="3" height="9" fill="#008000"/>
<rect x="283" y="266" width="1" height="54" fill="#000" stroke="none"/>
<rect x="281" y="269" width="5" height="46" fill="#000"/>
<rect x="282" y="270" width="3" height="44" fill="#ff0000"/>
<rect x="291" y="303" width="1" height="28" fill="#000" stroke="none"/>
<rect x="289" y="315" width="5" height="13" fill="#000"/>
<rect x="290" y="316" width="3" height="11" fill="#ff0000"/>
<rect x="299" y="324" width="1" height="40" fill="#000" stroke="none"/>
<rect x="297" y="328" width="5" height="34" fill="#000"/>
<rect x="298" y="329" width="3" height="32" fill="#ff0000"/>
<rect x="307" y="340" width="1" height="37" fill="#000" stroke="none"/>
<rect x="305" y="349" width="5" height="18" fill="#000"/>
<rect x="306" y="350" width="3" height="16" fill="#008000"/>
<rect x="315" y="327" width="1" height="58" fill="#000" stroke="none"/>
<rect x="313" y="342" width="5" height="34" fill="#000"/>
<rect x="314" y="343" width="3" height="32" fill="#ff0000"/>
<rect x="323" y="367" width="1" height="94" fill="#000" stroke="none"/>
<rect x="321" y="375" width="5" height="85" fill="#000"/>
<rect x="322" y="376" width="3" height="83" fill="#ff0000"/>
<rect x="331" y="401" width="1" height="137" fill="#000" stroke="none"/>
<rect x="329" y="412" width="5" height="55" fill="#000"/>
<rect x="330" y="413" width="3" height="53" fill="#008000"/>
<rect x="339" y="363" width="1" height="66" fill="#000" stroke="none"/>
<rect x="337" y="412" width="5" height="11" fill="#000"/>
<rect x="338" y="413" width="3" height="9" fill="#ff0000"/>
<rect x="347" y="380" width="1" height="69" fill="#000" stroke="none"/>
<rect x="345" y="410" width="5" height="15" fill="#000"/>
<rect x="346" y="411" width="3" height="13" fill="#008000"/>
<rect x="355" y="371" width="1" height="57" fill="#000" stroke="none"/>
<rect x="353" y="393" width="5" height="10" fill="#000"/>
<rect x="354" y="394" width="3" height="8" fill="#008000"/>
<rect x="363" y="341" width="1" height="59" fill="#000" stroke="none"/>
<rect x="361" y="345" width="5" height="34" fill="#000"/>
<rect x="362" y="346" width="3" height="32" fill="#008000"/>
<rect x="371" y="345" width="1" height="71" fill="#000" stroke="none"/>
<rect x="369" y="351" width="5" height="31" fill="#000"/>
<rect x="370" y="352" width="3" height="29" fill="#ff0000"/>
<rect x="379" y="310" width="1" height="84" fill="#000" stroke="none"/>
<rect x="377" y="313" width="5" height="79" fill="#000"/>
<rect x="378" y="314" width="3" height="77" fill="#008000"/>
<rect x="387" y="284" width="1" height="48" fill="#000" stroke="none"/>
<rect x="385" y="305" width="5" height="13" fill="#000"/>
<rect x="386" y="306" width="3" height="11" fill="#008000"/>
<rect x="395" y="265" width="1" height="57" fill="#000" stroke="none"/>
<rect x="393" y="275" width="5" height="30" fill="#000"/>
<rect x="394" y="276" width="3" height="28" fill="#008000"/>
<rect x="403" y="242" width="1" height="62" fill="#000" stroke="none"/>
<rect x="401" y="246" width="5" height="34" fill="#000"/>
<rect x="402" y="247" width="3" height="32" fill="#008000"/>
<rect x="411" y="237" width="1" height="36" fill="#000" stroke="none"/>
<rect x="409" y="248" width="5" height="3" fill="#000"/>
<rect x="410" y="249" width="3" height="1" fill="#ff0000"/>
<rect x="419" y="222" width="1" height="49" fill="#000" stroke="none"/>
<rect x="417" y="251" width="5" height="18" fill="#000"/>
<rect x="418" y="252" width="3" height="16" fill="#ff0000"/>
<rect x="427" y="252" width="1" height="38" fill="#000" stroke="none"/>
<rect x="425" y="267" width="5" height="15" fill="#000"/>
<rect x="426" y="268" width="3" height="13" fill="#ff0000"/>
<rect x="435" y="269" width="1" height="20" fill="#000" stroke="none"/>
<rect x="433" y="275" width="5" height="7" fill="#000"/>
<rect x="434" y="276" width="3" height="5" fill="#008000"/>
<rect x="443" y="272" width="1" height="41" fill="#000" stroke="none"/>
<rect x="441" y="275" width="5" height="7" fill="#000"/>
<rect x="442" y="276" width="3" height="5" fill="#008000"/>
<rect x="451" y="251" width="1" height="27" fill="#000" stroke="none"/>
<rect x="449" y="254" width="5" height="23" fill="#000"/>
<rect x="450" y="255" width="3" height="21" fill="#008000"/>
<rect x="459" y="223" width="1" height="41" fill="#000" stroke="none"/>
<rect x="457" y="229" width="5" height="28" fill="#000"/>
<rect x="458" y="230" width="3" height="26" fill="#008000"/>
<rect x="467" y="222" width="1" height="28" fill="#000" stroke="none"/>
<rect x="465" y="229" width="5" height="4" fill="#000"/>
<rect x="466" y="230" width="3" height="2" fill="#ff0000"/>
<rect x="475" y="226" width="1" height="56" fill="#000" stroke="none"/>
<rect x="473" y="231" width="5" height="51" fill="#000"/>
<rect x="474" y="232" width="3" height="49" fill="#ff0000"/>
<rect x="483" y="259" width="1" height="36" fill="#000" stroke="none"/>
<rect x="481" y="280" width="5" height="5" fill="#000"/>
<rect x="482" y="281" width="3" height="3" fill="#008000"/>
<rect x="491" y="248" width="1" height="54" fill="#000" stroke="none"/>
<rect x="489" y="279" width="5" height="4" fill="#000"/>
<rect x="490" y="280" width="3" height="2" fill="#ff0000"/>
<rect x="499" y="266" width="1" height="34" fill="#000" stroke="none"/>
<rect x="497" y="285" width="5" height="13" fill="#000"/>
<rect x="498" y="286" width="3" height="11" fill="#ff0000"/>
<rect x="507" y="267" width="1" height="34" fill="#000" stroke="none"/>
<rect x="505" y="282" width="5" height="15" fill="#000"/>
<rect x="506" y="283" width="3" height="13" fill="#008000"/>
<rect x="515" y="271" width="1" height="47" fill="#000" stroke="none"/>
<rect x="513" y="283" width="5" height="2" fill="#000"/>
<rect x="523" y="258" width="1" height="30" fill="#000" stroke="none"/>
<rect x="521" y="262" width="5" height="17" fill="#000"/>
<rect x="522" y="263" width="3" height="15" fill="#008000"/>
<rect x="531" y="237" width="1" height="27" fill="#000" stroke="none"/>
<rect x="529" y="254" width="5" height="5" fill="#000"/>
<rect x="530" y="255" width="3" height="3" fill="#008000"/>
<rect x="539" y="225" width="1" height="33" fill="#000" stroke="none"/>
<rect x="537" y="239" width="5" height="17" fill="#000"/>
<rect x="538" y="240" width="3" height="15" fill="#008000"/>
<rect x="547" y="210" width="1" height="38" fill="#000" stroke="none"/>
<rect x="545" y="226" width="5" height="15" fill="#000"/>
<rect x="546" y="227" width="3" height="13" fill="#008000"/>
<rect x="555" y="207" width="1" height="31" fill="#000" stroke="none"/>
<rect x="553" y="226" width="5" height="2" fill="#000"/>
<rect x="563" y="218" width="1" height="19" fill="#000" stroke="none"/>
<rect x="561" y="223" width="5" height="5" fill="#000"/>
<rect x="562" y="224" width="3" height="3" fill="#008000"/>
<rect x="571" y="202" width="1" height="30" fill="#000" stroke="none"/>
<rect x="569" y="204" width="5" height="22" fill="#000"/>
<rect x="570" y="205" width="3" height="20" fill="#008000"/>
<rect x="579" y="191" width="1" height="34" fill="#000" stroke="none"/>
<rect x="577" y="195" width="5" height="12" fill="#000"/>
<rect x="578" y="196" width="3" height="10" fill="#008000"/>
<rect x="587" y="187" width="1" height="36" fill="#000" stroke="none"/>
<rect x="585" y="195" width="5" height="28" fill="#000"/>
<rect x="586" y="196" width="3" height="26" fill="#ff0000"/>
<rect x="595" y="207" width="1" height="24" fill="#000" stroke="none"/>
<rect x="593" y="221" width="5" height="2" fill="#000"/>
<rect x="603" y="218" width="1" height="25" fill="#000" stroke="none"/>
<rect x="601" y="223" width="5" height="15" fill="#000"/>
<rect x="602" y="224" width="3" height="13" fill="#ff0000"/>
<rect x="611" y="207" width="1" height="34" fill="#000" stroke="none"/>
<rect x="609" y="222" width="5" height="18" fill="#000"/>
<rect x="610" y="223" width="3" height="16" fill="#008000"/>
<rect x="619" y="201" width="1" height="33" fill="#000" stroke="none"/>
<rect x="617" y="202" width="5" height="21" fill="#000"/>
<rect x="618" y="203" width="3" height="19" fill="#008000"/>
<rect x="627" y="162" width="1" height="55" fill="#000" stroke="none"/>
<rect x="625" y="166" width="5" height="41" fill="#000"/>
<rect x="626" y="167" width="3" height="39" fill="#008000"/>
<rect x="635" y="164" width="1" height="24" fill="#000" stroke="none"/>
<rect x="633" y="167" width="5" height="16" fill="#000"/>
<rect x="634" y="168" width="3" height="14" fill="#ff0000"/>
<rect x="643" y="176" width="1" height="25" fill="#000" stroke="none"/>
<rect x="641" y="183" width="5" height="3" fill="#000"/>
<rect x="642" y="184" width="3" height="1" fill="#ff0000"/>
<rect x="651" y="162" width="1" height="30" fill="#000" stroke="none"/>
<rect x="649" y="164" width="5" height="24" fill="#000"/>
<rect x="650" y="165" width="3" height="22" fill="#008000"/>
<rect x="659" y="118" width="1" height="60" fill="#000" stroke="none"/>
<rect x="657" y="126" width="5" height="40" fill="#000"/>
<rect x="658" y="127" width="3" height="38" fill="#008000"/>
<rect x="667" y="121" width="1" height="47" fill="#000" stroke="none"/>
<rect x="665" y="127" width="5" height="36" fill="#000"/>
<rect x="666" y="128" width="3" height="34" fill="#ff0000"/>
<rect x="675" y="141" width="1" height="35" fill="#000" stroke="none"/>
<rect x="673" y="163" width="5" height="1" fill="#000"/>
<rect x="683" y="159" width="1" height="38" fill="#000" stroke="none"/>
<rect x="681" y="164" width="5" height="15" fill="#000"/>
<rect x="682" y="165" width="3" height="13" fill="#ff0000"/>
<rect x="691" y="167" width="1" height="23" fill="#000" stroke="none"/>
<rect x="689" y="178" width="5" height="8" fill="#000"/>
<rect x="690" y="179" width="3" height="6" fill="#ff0000"/>
<rect x="699" y="171" width="1" height="27" fill="#000" stroke="none"/>
<rect x="697" y="180" width="5" height="7" fill="#000"/>
<rect x="698" y="181" width="3" height="5" fill="#008000"/>
<rect x="707" y="170" width="1" height="38" fill="#000" stroke="none"/>
<rect x="705" y="181" width="5" height="23" fill="#000"/>
<rect x="706" y="182" width="3" height="21" fill="#ff0000"/>
<rect x="715" y="177" width="1" height="28" fill="#000" stroke="none"/>
<rect x="713" y="201" width="5" height="3" fill="#000"/>
<rect x="714" y="202" width="3" height="1" fill="#008000"/>
<rect x="723" y="193" width="1" height="30" fill="#000" stroke="none"/>
<rect x="721" y="201" width="5" height="20" fill="#000"/>
<rect x="722" y="202" width="3" height="18" fill="#ff0000"/>
<rect x="731" y="206" width="1" height="27" fill="#000" stroke="none"/>
<rect x="729" y="219" width="5" height="13" fill="#000"/>
<rect x="730" y="220" width="3" height="11" fill="#ff0000"/>
<rect x="739" y="225" width="1" height="30" fill="#000" stroke="none"/>
<rect x="737" y="232" width="5" height="22" fill="#000"/>
<rect x="738" y="233" width="3" height="20" fill="#ff0000"/>
<rect x="747" y="248" width="1" height="25" fill="#000" stroke="none"/>
<rect x="745" y="253" width="5" height="6" fill="#000"/>
<rect x="746" y="254" width="3" height="4" fill="#ff0000"/>
<rect x="755" y="249" width="1" height="35" fill="#000" stroke="none"/>
<rect x="753" y="253" width="5" height="10" fill="#000"/>
<rect x="754" y="254" width="3" height="8" fill="#008000"/>
<rect x="763" y="238" width="1" height="33" fill="#000" stroke="none"/>
<rect x="761" y="258" width="5" height="10" fill="#000"/>
<rect x="762" y="259" width="3" height="8" fill="#ff0000"/>
<rect x="771" y="256" width="1" height="20" fill="#000" stroke="none"/>
<rect x="769" y="264" width="5" height="5" fill="#000"/>
<rect x="770" y="265" width="3" height="3" fill="#008000"/>
<rect x="779" y="245" width="1" height="34" fill="#000" stroke="none"/>
<rect x="777" y="266" width="5" height="6" fill="#000"/>
<rect x="778" y="267" width="3" height="4" fill="#ff0000"/>
<rect x="787" y="230" width="1" height="46" fill="#000" stroke="none"/>
<rect x="785" y="232" width="5" height="38" fill="#000"/>
<rect x="786" y="233" width="3" height="36" fill="#008000"/>
<rect x="795" y="225" width="1" height="36" fill="#000" stroke="none"/>
<rect x="793" y="235" width="5" height="20" fill="#000"/>
<rect x="794" y="236" width="3" height="18" fill="#ff0000"/>
<rect x="803" y="213" width="1" height="46" fill="#000" stroke="none"/>
<rect x="801" y="220" width="5" height="39" fill="#000"/>
<rect x="802" y="221" width="3" height="37" fill="#008000"/>
<rect x="811" y="197" width="1" height="26" fill="#000" stroke="none"/>
<rect x="809" y="200" width="5" height="23" fill="#000"/>
<rect x="810" y="201" width="3" height="21" fill="#008000"/>
<rect x="819" y="179" width="1" height="23" fill="#000" stroke="none"/>
<rect x="817" y="183" width="5" height="18" fill="#000"/>
<rect x="818" y="184" width="3" height="16" fill="#008000"/>
<rect x="827" y="181" width="1" height="34" fill="#000" stroke="none"/>
<rect x="825" y="186" width="5" height="22" fill="#000"/>
<rect x="826" y="187" width="3" height="20" fill="#ff0000"/>
<rect x="835" y="170" width="1" height="45" fill="#000" stroke="none"/>
<rect x="833" y="189" width="5" height="21" fill="#000"/>
<rect x="834" y="190" width="3" height="19" fill="#008000"/>
<rect x="843" y="175" width="1" height="23" fill="#000" stroke="none"/>
<rect x="841" y="185" width="5" height="3" fill="#000"/>
<rect x="842" y="186" width="3" height="1" fill="#008000"/>
<rect x="851" y="165" width="1" height="23" fill="#000" stroke="none"/>
<rect x="849" y="180" width="5" height="7" fill="#000"/>
<rect x="850" y="181" width="3" height="5" fill="#008000"/>
<rect x="859" y="174" width="1" height="25" fill="#000" stroke="none"/>
<rect x="857" y="181" width="5" height="2" fill="#000"/>
<rect x="867" y="172" width="1" height="17" fill="#000" stroke="none"/>
<rect x="865" y="177" width="5" height="7" fill="#000"/>
<rect x="866" y="178" width="3" height="5" fill="#008000"/>
<rect x="875" y="175" width="1" height="26" fill="#000" stroke="none"/>
<rect x="873" y="180" width="5" height="5" fill="#000"/>
<rect x="874" y="181" width="3" height="3" fill="#ff0000"/>
<rect x="883" y="173" width="1" height="20" fill="#000" stroke="none"/>
<rect x="881" y="184" width="5" height="4" fill="#000"/>
<rect x="882" y="185" width="3" height="2" fill="#008000"/>
<rect x="891" y="174" width="1" height="24" fill="#000" stroke="none"/>
<rect x="889" y="185" width="5" height="11" fill="#000"/>
<rect x="890" y="186" width="3" height="9" fill="#ff0000"/>
<rect x="899" y="193" width="1" height="19" fill="#000" stroke="none"/>
<rect x="897" y="195" width="5" height="2" fill="#000"/>
<rect x="907" y="187" width="1" height="23" fill="#000" stroke="none"/>
<rect x="905" y="197" width="5" height="4" fill="#000"/>
<rect x="906" y="198" width="3" height="2" fill="#ff0000"/>
<rect x="915" y="183" width="1" height="20" fill="#000" stroke="none"/>
<rect x="913" y="189" width="5" height="12" fill="#000"/>
<rect x="914" y="190" width="3" height="10" fill="#008000"/>
<rect x="923" y="184" width="1" height="16" fill="#000" stroke="none"/>
<rect x="921" y="189" width="5" height="4" fill="#000"/>
<rect x="922" y="190" width="3" height="2" fill="#ff0000"/>
<rect x="931" y="156" width="1" height="37" fill="#000" stroke="none"/>
<rect x="929" y="161" width="5" height="32" fill="#000"/>
<rect x="930" y="162" width="3" height="30" fill="#008000"/>
<rect x="939" y="160" width="1" height="22" fill="#000" stroke="none"/>
<rect x="937" y="162" width="5" height="18" fill="#000"/>
<rect x="938" y="163" width="3" height="16" fill="#ff0000"/>
<rect x="947" y="169" width="1" height="35" fill="#000" stroke="none"/>
<rect x="945" y="181" width="5" height="19" fill="#000"/>
<rect x="946" y="182" width="3" height="17" fill="#ff0000"/>
<rect x="955" y="189" width="1" height="13" fill="#000" stroke="none"/>
<rect x="953" y="197" width="5" height="4" fill="#000"/>
<rect x="954" y="198" width="3" height="2" fill="#008000"/>
<rect x="963" y="187" width="1" height="22" fill="#000" stroke="none"/>
<rect x="961" y="194" width="5" height="3" fill="#000"/>
<rect x="962" y="195" width="3" height="1" fill="#008000"/>
<rect x="971" y="183" width="1" height="43" fill="#000" stroke="none"/>
<rect x="969" y="196" width="5" height="27" fill="#000"/>
<rect x="970" y="197" width="3" height="25" fill="#ff0000"/>
<rect x="979" y="214" width="1" height="21" fill="#000" stroke="none"/>
<rect x="977" y="223" width="5" height="11" fill="#000"/>
<rect x="978" y="224" width="3" height="9" fill="#ff0000"/>
<rect x="987" y="208" width="1" height="37" fill="#000" stroke="none"/>
<rect x="985" y="215" width="5" height="20" fill="#000"/>
<rect x="986" y="216" width="3" height="18" fill="#008000"/>
<rect x="995" y="194" width="1" height="26" fill="#000" stroke="none"/>
<rect x="993" y="207" width="5" height="12" fill="#000"/>
<rect x="994" y="208" width="3" height="10" fill="#008000"/>
<rect x="1003" y="200" width="1" height="23" fill="#000" stroke="none"/>
<rect x="1001" y="209" width="5" height="2" fill="#000"/>
<rect x="1011" y="183" width="1" height="31" fill="#000" stroke="none"/>
<rect x="1009" y="184" width="5" height="30" fill="#000"/>
<rect x="1010" y="185" width="3" height="28" fill="#008000"/>
<rect x="1019" y="175" width="1" height="14" fill="#000" stroke="none"/>
<rect x="1017" y="179" width="5" height="9" fill="#000"/>
<rect x="1018" y="180" width="3" height="7" fill="#008000"/>
<rect x="1027" y="169" width="1" height="19" fill="#000" stroke="none"/>
<rect x="1025" y="178" width="5" height="3" fill="#000"/>
<rect x="1026" y="179" width="3" height="1" fill="#008000"/>
<rect x="1035" y="167" width="1" height="19" fill="#000" stroke="none"/>
<rect x="1033" y="180" width="5" height="2" fill="#000"/>
<rect x="1043" y="161" width="1" height="31" fill="#000" stroke="none"/>
<rect x="1041" y="180" width="5" height="7" fill="#000"/>
<rect x="1042" y="181" width="3" height="5" fill="#ff0000"/>
<rect x="1051" y="178" width="1" height="19" fill="#000" stroke="none"/>
<rect x="1049" y="187" width="5" height="7" fill="#000"/>
<rect x="1050" y="188" width="3" height="5" fill="#ff0000"/>
<rect x="1059" y="184" width="1" height="14" fill="#000" stroke="none"/>
<rect x="1057" y="193" width="5" height="2" fill="#000"/>
<rect x="1067" y="167" width="1" height="31" fill="#000" stroke="none"/>
<rect x="1065" y="167" width="5" height="26" fill="#000"/>
<rect x="1066" y="168" width="3" height="24" fill="#008000"/>
<rect x="1075" y="141" width="1" height="33" fill="#000" stroke="none"/>
<rect x="1073" y="142" width="5" height="29" fill="#000"/>
<rect x="1074" y="143" width="3" height="27" fill="#008000"/>
<rect x="1083" y="133" width="1" height="23" fill="#000" stroke="none"/>
<rect x="1081" y="145" width="5" height="9" fill="#000"/>
<rect x="1082" y="146" width="3" height="7" fill="#ff0000"/>
<rect x="1091" y="148" width="1" height="15" fill="#000" stroke="none"/>
<rect x="1089" y="153" width="5" height="8" fill="#000"/>
<rect x="1090" y="154" width="3" height="6" fill="#ff0000"/>
<rect x="1099" y="156" width="1" height="28" fill="#000" stroke="none"/>
<rect x="1097" y="161" width="5" height="9" fill="#000"/>
<rect x="1098" y="162" width="3" height="7" fill="#ff0000"/>
<rect x="1107" y="167" width="1" height="24" fill="#000" stroke="none"/>
<rect x="1105" y="170" width="5" height="7" fill="#000"/>
<rect x="1106" y="171" width="3" height="5" fill="#ff0000"/>
<rect x="1115" y="148" width="1" height="30" fill="#000" stroke="none"/>
<rect x="1113" y="148" width="5" height="29" fill="#000"/>
<rect x="1114" y="149" width="3" height="27" fill="#008000"/>
<rect x="1123" y="106" width="1" height="46" fill="#000" stroke="none"/>
<rect x="1121" y="108" width="5" height="43" fill="#000"/>
<rect x="1122" y="109" width="3" height="41" fill="#008000"/>
<rect x="1131" y="100" width="1" height="25" fill="#000" stroke="none"/>
<rect x="1129" y="111" width="5" height="11" fill="#000"/>
<rect x="1130" y="112" width="3" height="9" fill="#ff0000"/>
<rect x="1139" y="105" width="1" height="23" fill="#000" stroke="none"/>
<rect x="1137" y="121" width="5" height="2" fill="#000"/>
<rect x="1147" y="117" width="1" height="24" fill="#000" stroke="none"/>
<rect x="1145" y="122" width="5" height="2" fill="#000"/>
<rect x="1155" y="89" width="1" height="34" fill="#000" stroke="none"/>
<rect x="1153" y="93" width="5" height="30" fill="#000"/>
<rect x="1154" y="94" width="3" height="28" fill="#008000"/>
<rect x="1163" y="75" width="1" height="29" fill="#000" stroke="none"/>
<rect x="1161" y="85" width="5" height="10" fill="#000"/>
<rect x="1162" y="86" width="3" height="8" fill="#008000"/>
<rect x="1171" y="77" width="1" height="54" fill="#000" stroke="none"/>
<rect x="1169" y="85" width="5" height="38" fill="#000"/>
<rect x="1170" y="86" width="3" height="36" fill="#ff0000"/>
<rect x="1179" y="120" width="1" height="19" fill="#000" stroke="none"/>
<rect x="1177" y="124" width="5" height="8" fill="#000"/>
<rect x="1178" y="125" width="3" height="6" fill="#ff0000"/>
</g>
<g clip-path="url(#cs)">
<line x1="4" y1="595.5" x2="1230" y2="595.5" stroke="#c0c0c0" stroke-width="1" stroke-dasharray="3,3"/>
<line x1="4" y1="631.5" x2="1230" y2="631.5" stroke="#c0c0c0" stroke-width="1" stroke-dasharray="3,3"/>
<line x1="4" y1="667.5" x2="1230" y2="667.5" stroke="#c0c0c0" stroke-width="1" stroke-dasharray="3,3"/>
<path d="M415 580.5h2M429 580.5h2M645 580.5h2M665 580.5h3M874 580.5h2M889 580.5h2M1137 580.5h2M1143 580.5h14M1167 580.5h2M441 586.5h2M445 586.5h4M897 586.5h2M931 586.5h2M1129 586.5h2M1175 586.5h2M56 631.5h2M79 631.5h3M529 598.5h2M1001 663.5h3M417 579.5h2M423 579.5h6M460 579.5h2M474 579.5h2M551 579.5h2M647 579.5h3M661 579.5h4M876 579.5h2M887 579.5h2M1139 579.5h4M1157 579.5h2M257 684.5h2M334 684.5h2M900 588.5h2M943 588.5h2M1097 588.5h2M63 635.5h2M70 635.5h2M152 690.5h2M231 690.5h16M306 690.5h18M759 690.5h21M127 675.5h5M194 675.5h3M281 675.5h3M65 636.5h2M68 636.5h2M197 674.5h4M204 674.5h2M273 674.5h2M277 674.5h4M46 626.5h2M107 676.5h2M121 676.5h6M191 676.5h3M207 676.5h2M284 676.5h2M223 687.5h2M253 687.5h2M300 687.5h2M328 687.5h2M749 687.5h2M369 657.5h2M154 691.5h18M905 591.5h2M419 578.5h4M462 578.5h2M471 578.5h3M553 578.5h2M650 578.5h11M878 578.5h2M1159 578.5h3M1164 578.5h2M58 632.5h2M77 632.5h2M569 571.5h11M1052 611.5h2M1063 611.5h2M499 600.5h4M1107 600.5h4M839 623.5h2M52 629.5h2M72 634.5h2M560 574.5h2M452 584.5h2M481 584.5h2M635 584.5h2M673 584.5h2M937 584.5h3M1089 584.5h2M466 576.5h3M556 576.5h2M882 576.5h2M439 585.5h2M449 585.5h3M933 585.5h4M1087 585.5h2M1093 585.5h2M907 592.5h4M919 592.5h5M150 689.5h2M173 689.5h2M227 689.5h4M247 689.5h5M304 689.5h2M324 689.5h2M754 689.5h5M1057 614.5h2M509 602.5h4M519 602.5h5M961 602.5h2M266 679.5h2M289 679.5h2M343 679.5h2M793 679.5h2M1125 589.5h2M183 681.5h2M262 681.5h2M340 681.5h2M489 590.5h2M903 590.5h2M925 590.5h2M537 593.5h2M911 593.5h8M949 593.5h2M513 603.5h6M615 603.5h2M1035 603.5h4M9 685.5h2M220 685.5h2M297 685.5h2M332 685.5h2M367 658.5h2M695 608.5h2M109 677.5h4M117 677.5h4M133 677.5h2M189 677.5h2M209 677.5h2M269 677.5h2M1049 609.5h2M201 673.5h3M275 673.5h2M532 596.5h2M953 596.5h2M60 633.5h2M74 633.5h3M137 680.5h2M213 680.5h2M264 680.5h2M791 680.5h2M431 581.5h3M457 581.5h2M477 581.5h2M548 581.5h2M642 581.5h3M668 581.5h2M871 581.5h3M1169 581.5h2M141 683.5h2M217 683.5h2M336 683.5h2M849 615.5h2M48 627.5h2M436 583.5h2M637 583.5h2M671 583.5h2M867 583.5h2M893 583.5h2M1133 583.5h2M995 661.5h2M443 587.5h2M485 587.5h2M929 587.5h2M1084 587.5h2M412 582.5h2M434 582.5h2M455 582.5h2M639 582.5h3M869 582.5h2M1055 613.5h2M558 575.5h2M583 575.5h2M565 572.5h4M145 686.5h2M177 686.5h2M330 686.5h2M747 686.5h2M783 686.5h2M1045 606.5h2M464 577.5h2M469 577.5h2M880 577.5h2M884 577.5h2M1162 577.5h2M113 678.5h4M187 678.5h2M287 678.5h2M345 678.5h2M5 688.5h2M148 688.5h2M225 688.5h2M302 688.5h2M326 688.5h2M751 688.5h3M364 660.5h2M845 618.5h2M535 594.5h2M260 682.5h2M293 682.5h2M338 682.5h2M788 682.5h2M997 662.5h4M1039 604.5h5M50 628.5h2M503 601.5h6M524 601.5h2M527 599.5h2M957 599.5h2M1111 599.5h5M54 630.5h2M82 630.5h2M562 573.5h3M44 625.5h2M701.5 613v2M27.5 651v3M941.5 586v1M1103.5 594v2M860.5 597v2M617.5 602v1M730.5 659v2M534.5 595v1M1131.5 585v1M526.5 600v1M852.5 612v2M955.5 597v1M1092.5 584v1M782.5 687v1M806.5 663v1M1007.5 652v3M404.5 592v1M809.5 658v2M1135.5 582v1M818.5 646v1M821.5 642v2M380.5 640v2M136.5 679v1M786.5 684v1M928.5 588v1M865.5 587v2M1031.5 609v2M980.5 634v2M38.5 629v1M718.5 635v2M372.5 654v2M1077.5 595v1M1118.5 596v1M606.5 601v1M26.5 654v2M856.5 605v2M101.5 665v2M981.5 636v2M396.5 611v3M587.5 578v1M813.5 652v2M836.5 626v1M102.5 667v2M1006.5 655v2M1069.5 605v1M1072.5 601v1M1018.5 629v2M732.5 663v2M31.5 641v3M864.5 589v2M685.5 596v2M356.5 668v1M633.5 586v1M940.5 585v1M222.5 686v1M797.5 675v2M800.5 672v1M744.5 682v1M395.5 614v2M988.5 651v2M726.5 651v2M624.5 595v1M729.5 657v2M605.5 600v1M132.5 676v1M994.5 659v2M1014.5 637v2M91.5 643v2M18.5 671v2M545.5 584v2M1080.5 591v1M94.5 649v3M454.5 583v1M711.5 625v2M84.5 631v2M476.5 580v1M87.5 636v2M105.5 672v2M621.5 598v1M391.5 621v2M540.5 591v1M383.5 635v1M147.5 687v1M1034.5 604v2M847.5 617v1M14.5 678v2M98.5 659v2M699.5 611v1M859.5 599v2M678.5 588v1M42.5 625v1M491.5 591v1M951.5 594v1M902.5 589v1M1122.5 592v1M299.5 686v1M700.5 612v1M684.5 595v1M743.5 681v1M387.5 628v1M379.5 642v1M25.5 656v2M598.5 591v1M582.5 574v1M34.5 634v2M987.5 649v2M371.5 656v1M725.5 649v2M1106.5 598v2M855.5 607v1M438.5 584v1M90.5 641v2M812.5 654v1M360.5 664v1M1068.5 606v2M608.5 604v1M628.5 591v1M375.5 649v1M104.5 670v2M33.5 636v3M487.5 588v1M947.5 591v1M851.5 614v1M677.5 587v1M180.5 684v1M403.5 593v2M219.5 684v1M97.5 657v2M612.5 606v1M1021.5 625v1M348.5 676v1M820.5 644v1M1013.5 639v2M731.5 661v2M597.5 590v1M1079.5 592v2M363.5 661v1M728.5 655v2M1099.5 589v1M991.5 655v2M815.5 650v1M414.5 581v1M631.5 588v1M390.5 623v1M724.5 647v2M1005.5 657v3M402.5 595v3M831.5 631v1M1071.5 602v2M1017.5 631v2M946.5 590v1M86.5 635v1M37.5 630v1M863.5 591v2M89.5 639v2M1117.5 597v1M982.5 638v2M710.5 624v1M979.5 631v3M351.5 673v1M1171.5 582v1M386.5 629v2M378.5 643v2M1059.5 615v1M271.5 676v1M399.5 603v3M976.5 625v2M796.5 677v1M854.5 608v2M255.5 686v1M727.5 653v2M623.5 596v1M746.5 685v1M687.5 599v1M596.5 588v2M382.5 636v2M867.5 584v1M1033.5 606v2M942.5 587v1M709.5 623v1M688.5 600v1M374.5 650v2M838.5 624v1M483.5 585v1M858.5 601v2M607.5 602v2M398.5 606v3M721.5 641v2M85.5 633v2M411.5 583v1M1020.5 626v2M358.5 666v1M24.5 658v2M978.5 629v2M286.5 677v1M679.5 589v2M745.5 683v2M626.5 593v1M100.5 663v2M823.5 640v1M799.5 673v1M826.5 636v1M680.5 591v1M406.5 589v1M589.5 580v1M29.5 646v3M1024.5 620v2M1082.5 589v1M259.5 683v1M599.5 592v2M975.5 623v2M702.5 615v1M1004.5 660v2M1016.5 633v2M965.5 606v2M1051.5 610v1M862.5 593v2M23.5 660v3M32.5 639v2M986.5 647v2M600.5 594v1M393.5 618v2M989.5 653v1M927.5 589v1M182.5 682v1M842.5 621v1M92.5 645v2M1074.5 598v2M385.5 631v2M1012.5 641v2M712.5 627v1M175.5 688v1M720.5 639v2M1124.5 590v1M835.5 627v1M588.5 579v1M206.5 675v1M19.5 669v2M539.5 592v1M713.5 628v1M179.5 685v1M96.5 654v3M833.5 629v1M4.5 689v1M381.5 638v2M99.5 661v2M802.5 669v1M1086.5 586v1M492.5 592v1M952.5 595v1M409.5 585v2M362.5 662v1M1027.5 616v1M857.5 603v2M493.5 593v1M353.5 671v1M964.5 604v2M1101.5 592v1M630.5 589v1M790.5 681v1M690.5 603v1M342.5 680v1M985.5 645v2M723.5 645v2M1070.5 604v1M705.5 618v2M186.5 679v1M1177.5 587v1M377.5 645v2M88.5 638v1M542.5 588v1M614.5 604v1M853.5 610v2M350.5 674v1M531.5 597v1M1128.5 587v1M899.5 587v1M719.5 637v2M618.5 601v1M1047.5 607v1M610.5 606v1M39.5 628v1M805.5 664v2M373.5 652v2M1100.5 590v2M817.5 647v2M389.5 624v2M8.5 686v1M974.5 621v2M401.5 598v2M366.5 659v1M967.5 609v2M1011.5 643v2M830.5 632v1M689.5 601v2M397.5 609v2M963.5 603v1M992.5 657v1M722.5 643v2M30.5 644v2M825.5 637v2M400.5 600v3M62.5 634v1M828.5 634v1M609.5 605v1M144.5 685v1M1061.5 613v1M1003.5 662v1M357.5 667v1M295.5 683v1M948.5 592v1M488.5 589v1M977.5 627v2M1065.5 610v1M22.5 663v2M861.5 595v2M591.5 582v2M405.5 590v2M296.5 684v1M625.5 594v1M1023.5 622v1M1172.5 583v1M737.5 672v2M1119.5 595v1M970.5 614v2M1173.5 584v1M703.5 616v1M682.5 593v1M143.5 684v1M495.5 595v2M837.5 625v1M966.5 608v1M1030.5 611v1M95.5 652v2M984.5 643v2M43.5 624v1M1073.5 600v1M602.5 596v2M704.5 617v1M895.5 584v1M496.5 597v1M841.5 622v1M215.5 681v1M801.5 670v2M408.5 587v1M388.5 626v2M1026.5 617v2M216.5 682v1M1015.5 635v2M1081.5 590v1M632.5 587v1M590.5 581v1M808.5 660v1M733.5 665v2M959.5 600v1M1096.5 587v1M139.5 681v1M736.5 670v2M392.5 620v1M844.5 619v1M541.5 589v2M384.5 633v2M1076.5 596v1M544.5 586v1M781.5 688v1M973.5 619v2M181.5 683v1M352.5 672v1M670.5 582v1M376.5 647v2M848.5 616v1M494.5 594v1M983.5 640v3M291.5 680v1M268.5 678v1M620.5 599v1M185.5 680v1M601.5 595v1M484.5 586v1M804.5 666v2M1019.5 628v1M1179.5 589v1M1095.5 586v1M1010.5 645v2M832.5 630v1M17.5 673v2M355.5 669v1M681.5 592v1M740.5 677v1M785.5 685v1M1009.5 647v3M969.5 612v2M211.5 678v1M480.5 583v1M13.5 680v2M886.5 578v1M990.5 654v1M252.5 688v1M1022.5 623v2M707.5 621v1M691.5 604v1M256.5 685v1M824.5 639v1M41.5 626v1M1091.5 583v1M21.5 665v2M272.5 675v1M692.5 605v1M1121.5 593v1M807.5 661v2M135.5 678v1M924.5 591v1M714.5 629v1M611.5 607v1M816.5 649v1M717.5 633v2M1029.5 612v2M866.5 585v2M738.5 674v2M479.5 582v1M172.5 690v1M739.5 676v1M811.5 655v1M555.5 577v1M972.5 617v2M547.5 582v1M1067.5 608v1M1102.5 593v1M968.5 611v1M359.5 665v1M603.5 598v1M1178.5 588v1M1060.5 614v1M706.5 620v1M1083.5 588v1M627.5 592v1M604.5 599v1M16.5 675v2M498.5 599v1M28.5 649v2M407.5 588v1M1132.5 584v1M1025.5 619v1M586.5 577v1M1136.5 581v1M1048.5 608v1M795.5 678v1M819.5 645v1M734.5 667v2M592.5 584v1M1008.5 650v2M12.5 682v2M67.5 637v1M843.5 620v1M36.5 631v1M593.5 585v1M735.5 669v1M1075.5 597v1M1116.5 598v1M814.5 651v1M971.5 616v1M1174.5 585v1M803.5 668v1M827.5 635v1M993.5 658v1M410.5 584v1M93.5 647v2M497.5 598v1M634.5 585v1M1028.5 614v2M459.5 580v1M1044.5 605v1M347.5 677v1M822.5 641v1M716.5 631v2M585.5 576v1M787.5 683v1M1078.5 594v1M394.5 616v2M780.5 689v1M741.5 678v2M622.5 597v1M176.5 687v1M20.5 667v2M742.5 680v1M1032.5 608v1M683.5 594v1M619.5 600v1M1104.5 596v1M698.5 610v1M896.5 585v1M1105.5 597v1M834.5 628v1M40.5 627v1M1120.5 594v1M354.5 670v1M945.5 589v1M675.5 585v1M798.5 674v1M106.5 674v2M715.5 630v1M35.5 632v2M694.5 607v1M810.5 656v2M697.5 609v1M676.5 586v1M1062.5 612v1M960.5 601v1M140.5 682v1M543.5 587v1M629.5 590v1M1066.5 609v1M892.5 582v1M580.5 572v1M1123.5 591v1M292.5 681v1M581.5 573v1M613.5 605v1M1127.5 588v1M686.5 598v1M1166.5 579v1M708.5 622v1M3.5 690v1M1054.5 612v1M361.5 663v1M693.5 606v1M7.5 687v1M891.5 581v1M956.5 598v1M546.5 583v1M11.5 684v1M829.5 633v1M103.5 669v1M550.5 580v1M594.5 586v1M212.5 679v1M349.5 675v1M595.5 587v1M15.5 677v1" fill="none" stroke="#20b2aa" stroke-width="1"/>
<path d="M12 682.5h2M192 682.5h2M223 682.5h3M269 682.5h2M298 682.5h3M346 682.5h2M763 682.5h2M1041 614.5h2M1057 614.5h4M461 582.5h2M481 582.5h4M561 582.5h2M653 582.5h4M671 582.5h5M1151 582.5h6M1174 582.5h2M420 591.5h2M500 591.5h2M633 591.5h2M919 591.5h6M952 591.5h2M1097 591.5h3M1130 591.5h2M505 594.5h2M628 594.5h2M957 594.5h2M1104 594.5h2M1122 594.5h3M507 595.5h2M540 595.5h2M611 595.5h2M626 595.5h2M1106 595.5h3M1119 595.5h3M423 589.5h2M497 589.5h2M637 589.5h2M909 589.5h4M929 589.5h4M948 589.5h2M8 684.5h2M153 684.5h2M188 684.5h2M229 684.5h2M264 684.5h2M303 684.5h3M341 684.5h2M767 684.5h3M789 684.5h4M136 675.5h2M545 592.5h2M631 592.5h2M954 592.5h2M1093 592.5h4M1100 592.5h2M1127 592.5h3M165 688.5h4M175 688.5h6M241 688.5h14M319 688.5h8M161 687.5h4M181 687.5h2M237 687.5h4M255 687.5h5M313 687.5h6M327 687.5h6M777 687.5h4M466 580.5h11M564 580.5h2M1161 580.5h11M548 590.5h2M635 590.5h2M687 590.5h2M913 590.5h6M925 590.5h4M950 590.5h2M1132 590.5h2M44 641.5h2M578 574.5h5M148 681.5h2M194 681.5h3M221 681.5h2M271 681.5h3M296 681.5h2M797 681.5h2M458 583.5h3M485 583.5h2M559 583.5h2M650 583.5h3M676 583.5h2M1146 583.5h5M1176 583.5h2M455 584.5h3M487 584.5h3M648 584.5h2M678 584.5h2M890 584.5h5M1143 584.5h3M1178 584.5h2M509 596.5h2M538 596.5h2M613 596.5h2M623 596.5h3M1087 596.5h2M1109 596.5h4M1117 596.5h2M1079 603.5h2M427 587.5h4M553 587.5h2M642 587.5h2M883 587.5h2M903 587.5h3M937 587.5h6M1137 587.5h2M4 686.5h2M157 686.5h4M183 686.5h3M234 686.5h3M260 686.5h2M309 686.5h4M333 686.5h4M773 686.5h4M781 686.5h4M425 588.5h2M495 588.5h2M551 588.5h2M639 588.5h3M906 588.5h3M933 588.5h4M943 588.5h5M1135 588.5h2M81 633.5h4M463 581.5h3M477 581.5h4M657 581.5h14M1157 581.5h4M1172 581.5h2M1068 611.5h2M53 636.5h4M63 636.5h8M90 636.5h2M125 671.5h4M1043 613.5h4M1053 613.5h4M1061 613.5h4M517 599.5h4M527 599.5h6M142 678.5h2M202 678.5h5M213 678.5h2M279 678.5h3M287 678.5h5M351 678.5h2M801 678.5h2M1047 612.5h6M1065 612.5h3M10 683.5h2M151 683.5h2M190 683.5h2M226 683.5h3M266 683.5h3M301 683.5h2M343 683.5h3M765 683.5h2M793 683.5h3M122 670.5h3M361 670.5h2M115 667.5h2M365 667.5h2M431 586.5h22M492 586.5h2M644 586.5h2M682 586.5h2M885 586.5h2M901 586.5h2M1139 586.5h2M566 579.5h2M594 579.5h2M453 585.5h2M490 585.5h2M556 585.5h2M646 585.5h2M680 585.5h2M887 585.5h3M895 585.5h6M1141 585.5h2M140 677.5h2M207 677.5h6M282 677.5h5M573 576.5h2M588 576.5h2M17 679.5h2M144 679.5h2M199 679.5h3M215 679.5h3M277 679.5h2M292 679.5h2M759 679.5h2M77 634.5h4M85 634.5h2M369 664.5h2M1003 651.5h2M1010 648.5h2M129 672.5h3M1036 617.5h2M15 680.5h2M146 680.5h2M197 680.5h2M218 680.5h3M274 680.5h3M294 680.5h2M132 673.5h2M357 673.5h2M1073 608.5h2M514 598.5h3M533 598.5h2M618 598.5h3M6 685.5h2M155 685.5h2M186 685.5h2M231 685.5h3M262 685.5h2M306 685.5h3M337 685.5h4M770 685.5h3M785 685.5h4M521 600.5h6M47 639.5h2M575 575.5h3M583 575.5h5M511 597.5h3M535 597.5h3M615 597.5h3M621 597.5h2M695 597.5h2M961 597.5h2M1113 597.5h4M1005 650.5h2M1071 609.5h2M117 668.5h2M119 669.5h3M503 593.5h2M543 593.5h2M1091 593.5h2M1102 593.5h2M1125 593.5h2M134 674.5h2M568 578.5h2M592 578.5h2M138 676.5h2M57 635.5h6M71 635.5h6M87 635.5h3M1007 649.5h3M1039 615.5h2M49 638.5h2M51 637.5h2M570 577.5h3M590 577.5h2M847 629.5h2M169 689.5h6M712.5 614v1M610.5 594v1M813.5 666v1M408.5 607v2M836.5 640v1M400.5 621v2M95.5 641v2M872.5 599v1M602.5 586v1M1081.5 602v1M96.5 643v1M748.5 667v1M867.5 605v1M396.5 629v2M42.5 643v2M711.5 612v2M609.5 593v1M805.5 675v1M825.5 652v2M828.5 649v1M685.5 588v1M852.5 625v1M1019.5 640v1M988.5 634v1M380.5 653v2M697.5 598v1M383.5 649v1M875.5 595v1M820.5 659v1M1034.5 619v2M392.5 635v2M730.5 639v2M94.5 640v1M762.5 681v1M375.5 659v1M703.5 604v1M860.5 614v2M1134.5 589v1M704.5 605v1M831.5 645v2M25.5 670v2M1030.5 625v2M368.5 665v1M499.5 590v1M808.5 671v1M22.5 674v1M999.5 647v1M855.5 621v1M372.5 662v1M1022.5 636v1M1025.5 632v2M970.5 607v1M494.5 587v1M29.5 664v2M110.5 661v1M598.5 582v1M1038.5 616v1M882.5 588v1M733.5 644v2M843.5 633v1M863.5 610v2M866.5 606v2M726.5 632v2M348.5 681v1M98.5 645v2M729.5 637v2M395.5 631v1M722.5 626v1M879.5 591v1M751.5 670v2M1014.5 645v1M692.5 594v1M422.5 590v1M815.5 664v1M108.5 659v1M399.5 623v2M379.5 655v1M969.5 605v2M757.5 677v1M1083.5 600v1M109.5 660v1M710.5 611v1M758.5 678v1M597.5 581v1M973.5 611v2M823.5 655v1M1076.5 606v1M991.5 638v1M721.5 624v2M386.5 644v2M355.5 675v1M732.5 642v2M41.5 645v2M740.5 655v2M807.5 672v2M359.5 672v1M725.5 630v2M796.5 682v1M97.5 644v1M411.5 602v1M998.5 646v1M736.5 649v1M604.5 588v1M1021.5 637v2M750.5 669v1M382.5 650v2M605.5 589v1M28.5 666v2M101.5 650v1M1033.5 621v1M1090.5 594v1M558.5 584v1M838.5 638v1M968.5 604v1M874.5 596v1M990.5 637v1M869.5 602v2M728.5 635v2M699.5 600v1M857.5 618v2M374.5 660v1M363.5 669v1M1024.5 634v1M1070.5 610v1M724.5 628v2M398.5 625v2M414.5 598v1M877.5 593v1M845.5 631v1M111.5 662v2M385.5 646v1M972.5 609v2M394.5 632v2M956.5 593v1M112.5 664v1M975.5 614v2M835.5 641v1M713.5 615v1M389.5 640v1M1016.5 643v1M989.5 635v2M698.5 599v1M735.5 647v2M738.5 652v2M810.5 669v1M830.5 647v1M833.5 643v1M24.5 672v1M417.5 594v2M731.5 641v1M100.5 648v2M739.5 654v1M1027.5 630v1M705.5 606v1M19.5 678v1M31.5 661v2M753.5 673v1M694.5 596v1M404.5 614v2M706.5 607v1M849.5 628v1M978.5 619v2M350.5 679v1M822.5 656v1M971.5 608v1M842.5 634v1M979.5 621v1M881.5 589v1M27.5 668v1M993.5 640v2M599.5 583v1M734.5 646v1M742.5 658v2M817.5 662v1M600.5 584v1M727.5 634v1M99.5 647v1M1085.5 598v1M381.5 652v1M1000.5 648v1M1089.5 595v1M693.5 595v1M1078.5 604v1M388.5 641v2M607.5 591v1M974.5 613v1M354.5 676v1M413.5 599v2M416.5 596v1M865.5 608v1M737.5 650v2M38.5 650v1M992.5 639v1M741.5 657v1M840.5 636v1M30.5 663v1M723.5 627v1M752.5 672v1M103.5 652v2M837.5 639v1M34.5 656v2M876.5 594v1M821.5 657v2M46.5 640v1M606.5 590v1M3.5 687v1M812.5 667v1M963.5 598v1M407.5 609v1M419.5 592v1M376.5 658v1M868.5 604v1M871.5 600v1M114.5 666v1M715.5 617v1M744.5 661v2M403.5 616v1M800.5 679v1M745.5 663v1M384.5 647v2M824.5 654v1M102.5 651v1M1018.5 641v1M106.5 656v2M977.5 617v2M391.5 637v1M37.5 651v2M980.5 622v2M708.5 609v1M981.5 624v1M832.5 644v1M113.5 665v1M26.5 669v1M856.5 620v1M859.5 616v1M700.5 601v1M21.5 675v2M1026.5 631v1M367.5 666v1M804.5 676v1M33.5 658v2M995.5 643v1M851.5 626v1M1084.5 599v1M854.5 622v1M371.5 663v1M356.5 674v1M689.5 591v1M150.5 682v1M14.5 681v1M844.5 632v1M707.5 608v1M360.5 671v1M976.5 616v1M819.5 660v1M410.5 603v2M984.5 628v2M714.5 616v1M862.5 612v1M402.5 617v2M816.5 663v1M563.5 581v1M1029.5 627v1M878.5 592v1M1013.5 646v1M994.5 642v1M406.5 610v2M743.5 660v1M827.5 650v1M601.5 585v1M378.5 656v1M387.5 643v1M390.5 638v2M754.5 674v1M1001.5 649v1M1075.5 607v1M415.5 597v1M1002.5 650v1M608.5 592v1M555.5 586v1M40.5 647v1M502.5 592v1M983.5 627v1M547.5 591v1M684.5 587v1M839.5 637v1M1032.5 622v2M987.5 633v1M717.5 619v2M746.5 664v2M1020.5 639v1M718.5 621v1M36.5 653v2M747.5 666v1M814.5 665v1M811.5 668v1M630.5 593v1M104.5 654v1M873.5 597v2M1082.5 601v1M965.5 600v2M105.5 655v1M870.5 601v1M1028.5 628v2M982.5 625v2M853.5 623v2M397.5 627v2M799.5 680v1M846.5 630v1M803.5 677v1M93.5 639v1M761.5 680v1M850.5 627v1M1017.5 642v1M834.5 642v1M409.5 605v2M691.5 593v1M418.5 593v1M964.5 599v1M373.5 661v1M858.5 617v1M986.5 631v2M806.5 674v1M809.5 670v1M829.5 648v1M20.5 677v1M43.5 642v1M23.5 673v1M32.5 660v1M716.5 618v1M405.5 612v2M596.5 580v1M1023.5 635v1M92.5 637v2M1035.5 618v1M701.5 602v1M826.5 651v1M690.5 592v1M702.5 603v1M39.5 648v2M997.5 645v1M401.5 619v2M603.5 587v1M818.5 661v1M107.5 658v1M393.5 634v1M841.5 635v1M861.5 613v1M1086.5 597v1M709.5 610v1M1012.5 647v1M985.5 630v1M686.5 589v1M377.5 657v1M959.5 595v1M996.5 644v1M35.5 655v1M1077.5 605v1M719.5 622v1M960.5 596v1M349.5 680v1M720.5 623v1M749.5 668v1M364.5 668v1M353.5 677v1M880.5 590v1M1015.5 644v1M966.5 602v1M755.5 675v1M412.5 601v1M864.5 609v1M967.5 603v1M756.5 676v1M550.5 589v1M1031.5 624v1M542.5 594v1" fill="none" stroke="#ff0000" stroke-width="1"/>
</g>
<g clip-path="url(#cd)">
<line x1="4" y1="748.5" x2="1230" y2="748.5" stroke="#c0c0c0" stroke-width="1" stroke-dasharray="3,3"/>
<rect x="3" y="748" width="1" height="28" fill="#0000ff" stroke="none"/>
<rect x="11" y="748" width="1" height="27" fill="#0000ff" stroke="none"/>
<rect x="19" y="748" width="1" height="23" fill="#0000ff" stroke="none"/>
<rect x="27" y="748" width="1" height="19" fill="#0000ff" stroke="none"/>
<rect x="35" y="748" width="1" height="15" fill="#0000ff" stroke="none"/>
<rect x="43" y="748" width="1" height="13" fill="#0000ff" stroke="none"/>
<rect x="51" y="748" width="1" height="15" fill="#0000ff" stroke="none"/>
<rect x="59" y="748" width="1" height="13" fill="#0000ff" stroke="none"/>
<rect x="67" y="748" width="1" height="10" fill="#0000ff" stroke="none"/>
<rect x="75" y="748" width="1" height="9" fill="#0000ff" stroke="none"/>
<rect x="83" y="748" width="1" height="9" fill="#0000ff" stroke="none"/>
<rect x="91" y="748" width="1" height="13" fill="#0000ff" stroke="none"/>
<rect x="99" y="748" width="1" height="20" fill="#0000ff" stroke="none"/>
<rect x="107" y="748" width="1" height="21" fill="#0000ff" stroke="none"/>
<rect x="115" y="748" width="1" height="23" fill="#0000ff" stroke="none"/>
<rect x="123" y="748" width="1" height="26" fill="#0000ff" stroke="none"/>
<rect x="131" y="748" width="1" height="28" fill="#0000ff" stroke="none"/>
<rect x="139" y="748" width="1" height="28" fill="#0000ff" stroke="none"/>
<rect x="147" y="748" width="1" height="33" fill="#0000ff" stroke="none"/>
<rect x="155" y="748" width="1" height="41" fill="#0000ff" stroke="none"/>
<rect x="163" y="748" width="1" height="49" fill="#0000ff" stroke="none"/>
<rect x="171" y="748" width="1" height="58" fill="#0000ff" stroke="none"/>
<rect x="179" y="748" width="1" height="59" fill="#0000ff" stroke="none"/>
<rect x="187" y="748" width="1" height="58" fill="#0000ff" stroke="none"/>
<rect x="195" y="748" width="1" height="57" fill="#0000ff" stroke="none"/>
<rect x="203" y="748" width="1" height="61" fill="#0000ff" stroke="none"/>
<rect x="211" y="748" width="1" height="63" fill="#0000ff" stroke="none"/>
<rect x="219" y="748" width="1" height="63" fill="#0000ff" stroke="none"/>
<rect x="227" y="748" width="1" height="67" fill="#0000ff" stroke="none"/>
<rect x="235" y="748" width="1" height="69" fill="#0000ff" stroke="none"/>
<rect x="243" y="748" width="1" height="73" fill="#0000ff" stroke="none"/>
<rect x="251" y="748" width="1" height="73" fill="#0000ff" stroke="none"/>
<rect x="259" y="748" width="1" height="69" fill="#0000ff" stroke="none"/>
<rect x="267" y="748" width="1" height="67" fill="#0000ff" stroke="none"/>
<rect x="275" y="748" width="1" height="63" fill="#0000ff" stroke="none"/>
<rect x="283" y="748" width="1" height="65" fill="#0000ff" stroke="none"/>
<rect x="291" y="748" width="1" height="68" fill="#0000ff" stroke="none"/>
<rect x="299" y="748" width="1" height="71" fill="#0000ff" stroke="none"/>
<rect x="307" y="748" width="1" height="73" fill="#0000ff" stroke="none"/>
<rect x="315" y="748" width="1" height="77" fill="#0000ff" stroke="none"/>
<rect x="323" y="748" width="1" height="88" fill="#0000ff" stroke="none"/>
<rect x="331" y="748" width="1" height="89" fill="#0000ff" stroke="none"/>
<rect x="339" y="748" width="1" height="91" fill="#0000ff" stroke="none"/>
<rect x="347" y="748" width="1" height="91" fill="#0000ff" stroke="none"/>
<rect x="355" y="748" width="1" height="88" fill="#0000ff" stroke="none"/>
<rect x="363" y="748" width="1" height="79" fill="#0000ff" stroke="none"/>
<rect x="371" y="748" width="1" height="75" fill="#0000ff" stroke="none"/>
<rect x="379" y="748" width="1" height="63" fill="#0000ff" stroke="none"/>
<rect x="387" y="748" width="1" height="53" fill="#0000ff" stroke="none"/>
<rect x="395" y="748" width="1" height="41" fill="#0000ff" stroke="none"/>
<rect x="403" y="748" width="1" height="27" fill="#0000ff" stroke="none"/>
<rect x="411" y="748" width="1" height="17" fill="#0000ff" stroke="none"/>
<rect x="419" y="748" width="1" height="11" fill="#0000ff" stroke="none"/>
<rect x="427" y="748" width="1" height="7" fill="#0000ff" stroke="none"/>
<rect x="435" y="748" width="1" height="3" fill="#0000ff" stroke="none"/>
<rect x="451" y="745" width="1" height="4" fill="#0000ff" stroke="none"/>
<rect x="459" y="739" width="1" height="10" fill="#0000ff" stroke="none"/>
<rect x="467" y="734" width="1" height="15" fill="#0000ff" stroke="none"/>
<rect x="475" y="736" width="1" height="13" fill="#0000ff" stroke="none"/>
<rect x="483" y="738" width="1" height="11" fill="#0000ff" stroke="none"/>
<rect x="491" y="740" width="1" height="9" fill="#0000ff" stroke="none"/>
<rect x="499" y="743" width="1" height="6" fill="#0000ff" stroke="none"/>
<rect x="507" y="744" width="1" height="5" fill="#0000ff" stroke="none"/>
<rect x="515" y="744" width="1" height="5" fill="#0000ff" stroke="none"/>
<rect x="523" y="743" width="1" height="6" fill="#0000ff" stroke="none"/>
<rect x="531" y="741" width="1" height="8" fill="#0000ff" stroke="none"/>
<rect x="539" y="738" width="1" height="11" fill="#0000ff" stroke="none"/>
<rect x="547" y="734" width="1" height="15" fill="#0000ff" stroke="none"/>
<rect x="555" y="731" width="1" height="18" fill="#0000ff" stroke="none"/>
<rect x="563" y="729" width="1" height="20" fill="#0000ff" stroke="none"/>
<rect x="571" y="725" width="1" height="24" fill="#0000ff" stroke="none"/>
<rect x="579" y="722" width="1" height="27" fill="#0000ff" stroke="none"/>
<rect x="587" y="722" width="1" height="27" fill="#0000ff" stroke="none"/>
<rect x="595" y="723" width="1" height="26" fill="#0000ff" stroke="none"/>
<rect x="603" y="725" width="1" height="24" fill="#0000ff" stroke="none"/>
<rect x="611" y="726" width="1" height="23" fill="#0000ff" stroke="none"/>
<rect x="619" y="725" width="1" height="24" fill="#0000ff" stroke="none"/>
<rect x="627" y="719" width="1" height="30" fill="#0000ff" stroke="none"/>
<rect x="635" y="718" width="1" height="31" fill="#0000ff" stroke="none"/>
<rect x="643" y="717" width="1" height="32" fill="#0000ff" stroke="none"/>
<rect x="651" y="715" width="1" height="34" fill="#0000ff" stroke="none"/>
<rect x="659" y="709" width="1" height="40" fill="#0000ff" stroke="none"/>
<rect x="667" y="709" width="1" height="40" fill="#0000ff" stroke="none"/>
<rect x="675" y="710" width="1" height="39" fill="#0000ff" stroke="none"/>
<rect x="683" y="712" width="1" height="37" fill="#0000ff" stroke="none"/>
<rect x="691" y="715" width="1" height="34" fill="#0000ff" stroke="none"/>
<rect x="699" y="718" width="1" height="31" fill="#0000ff" stroke="none"/>
<rect x="707" y="722" width="1" height="27" fill="#0000ff" stroke="none"/>
<rect x="715" y="726" width="1" height="23" fill="#0000ff" stroke="none"/>
<rect x="723" y="731" width="1" height="18" fill="#0000ff" stroke="none"/>
<rect x="731" y="737" width="1" height="12" fill="#0000ff" stroke="none"/>
<rect x="739" y="744" width="1" height="5" fill="#0000ff" stroke="none"/>
<rect x="755" y="748" width="1" height="6" fill="#0000ff" stroke="none"/>
<rect x="763" y="748" width="1" height="11" fill="#0000ff" stroke="none"/>
<rect x="771" y="748" width="1" height="14" fill="#0000ff" stroke="none"/>
<rect x="779" y="748" width="1" height="17" fill="#0000ff" stroke="none"/>
<rect x="787" y="748" width="1" height="15" fill="#0000ff" stroke="none"/>
<rect x="795" y="748" width="1" height="16" fill="#0000ff" stroke="none"/>
<rect x="803" y="748" width="1" height="13" fill="#0000ff" stroke="none"/>
<rect x="811" y="748" width="1" height="7" fill="#0000ff" stroke="none"/>
<rect x="819" y="748" width="1" height="2" fill="#0000ff" stroke="none"/>
<rect x="835" y="744" width="1" height="5" fill="#0000ff" stroke="none"/>
<rect x="843" y="741" width="1" height="8" fill="#0000ff" stroke="none"/>
<rect x="851" y="738" width="1" height="11" fill="#0000ff" stroke="none"/>
<rect x="859" y="737" width="1" height="12" fill="#0000ff" stroke="none"/>
<rect x="867" y="735" width="1" height="14" fill="#0000ff" stroke="none"/>
<rect x="875" y="734" width="1" height="15" fill="#0000ff" stroke="none"/>
<rect x="883" y="734" width="1" height="15" fill="#0000ff" stroke="none"/>
<rect x="891" y="735" width="1" height="14" fill="#0000ff" stroke="none"/>
<rect x="899" y="736" width="1" height="13" fill="#0000ff" stroke="none"/>
<rect x="907" y="738" width="1" height="11" fill="#0000ff" stroke="none"/>
<rect x="915" y="738" width="1" height="11" fill="#0000ff" stroke="none"/>
<rect x="923" y="738" width="1" height="11" fill="#0000ff" stroke="none"/>
<rect x="931" y="736" width="1" height="13" fill="#0000ff" stroke="none"/>
<rect x="939" y="736" width="1" height="13" fill="#0000ff" stroke="none"/>
<rect x="947" y="738" width="1" height="11" fill="#0000ff" stroke="none"/>
<rect x="955" y="740" width="1" height="9" fill="#0000ff" stroke="none"/>
<rect x="963" y="741" width="1" height="8" fill="#0000ff" stroke="none"/>
<rect x="971" y="745" width="1" height="4" fill="#0000ff" stroke="none"/>
<rect x="987" y="748" width="1" height="3" fill="#0000ff" stroke="none"/>
<rect x="995" y="748" width="1" height="3" fill="#0000ff" stroke="none"/>
<rect x="1003" y="748" width="1" height="3" fill="#0000ff" stroke="none"/>
<rect x="1019" y="747" width="1" height="2" fill="#0000ff" stroke="none"/>
<rect x="1027" y="744" width="1" height="5" fill="#0000ff" stroke="none"/>
<rect x="1035" y="743" width="1" height="6" fill="#0000ff" stroke="none"/>
<rect x="1043" y="743" width="1" height="6" fill="#0000ff" stroke="none"/>
<rect x="1051" y="744" width="1" height="5" fill="#0000ff" stroke="none"/>
<rect x="1059" y="744" width="1" height="5" fill="#0000ff" stroke="none"/>
<rect x="1067" y="742" width="1" height="7" fill="#0000ff" stroke="none"/>
<rect x="1075" y="737" width="1" height="12" fill="#0000ff" stroke="none"/>
<rect x="1083" y="735" width="1" height="14" fill="#0000ff" stroke="none"/>
<rect x="1091" y="734" width="1" height="15" fill="#0000ff" stroke="none"/>
<rect x="1099" y="735" width="1" height="14" fill="#0000ff" stroke="none"/>
<rect x="1107" y="736" width="1" height="13" fill="#0000ff" stroke="none"/>
<rect x="1115" y="734" width="1" height="15" fill="#0000ff" stroke="none"/>
<rect x="1123" y="729" width="1" height="20" fill="#0000ff" stroke="none"/>
<rect x="1131" y="726" width="1" height="23" fill="#0000ff" stroke="none"/>
<rect x="1139" y="724" width="1" height="25" fill="#0000ff" stroke="none"/>
<rect x="1147" y="723" width="1" height="26" fill="#0000ff" stroke="none"/>
<rect x="1155" y="719" width="1" height="30" fill="#0000ff" stroke="none"/>
<rect x="1163" y="716" width="1" height="33" fill="#0000ff" stroke="none"/>
<rect x="1171" y="717" width="1" height="32" fill="#0000ff" stroke="none"/>
<rect x="1179" y="720" width="1" height="29" fill="#0000ff" stroke="none"/>
<path d="M491 742.5h2M875 742.5h2M1001 742.5h3M1073 742.5h3M75 763.5h3M117 763.5h3M15 767.5h2M57 767.5h3M141 767.5h2M599 727.5h3M605 727.5h2M1157 727.5h2M677 715.5h2M719 715.5h3M474 747.5h2M1019 747.5h3M1025 747.5h3M1031 747.5h3M1037 747.5h3M1043 747.5h3M351 828.5h2M381 828.5h3M587 731.5h2M1139 731.5h2M563 737.5h2M893 737.5h2M960 737.5h2M1115 737.5h2M803 757.5h3M828 757.5h2M557 738.5h3M887 738.5h2M966 738.5h2M971 738.5h2M1103 738.5h3M1109 738.5h2M497 740.5h3M503 740.5h2M539 740.5h3M768 740.5h2M983 740.5h3M1091 740.5h3M1055 745.5h3M786 751.5h2M852 751.5h2M762 736.5h2M899 736.5h3M948 736.5h2M953 736.5h3M743 725.5h2M1163 725.5h3M569 735.5h3M905 735.5h3M911 735.5h3M917 735.5h3M923 735.5h3M929 735.5h3M935 735.5h3M941 735.5h3M989 741.5h3M995 741.5h3M1079 741.5h3M1085 741.5h2M635 722.5h3M737 722.5h2M1175 722.5h3M93 760.5h3M99 760.5h3M455 760.5h2M665 718.5h3M231 808.5h2M480 744.5h2M774 744.5h2M869 744.5h2M1062 744.5h2M1067 744.5h2M291 816.5h3M297 816.5h3M575 734.5h2M1122 734.5h2M303 817.5h3M309 817.5h3M315 817.5h3M399 817.5h2M863 746.5h3M1014 746.5h2M1049 746.5h3M792 754.5h2M840 754.5h2M509 739.5h3M515 739.5h3M521 739.5h3M527 739.5h3M533 739.5h2M545 739.5h3M551 739.5h2M882 739.5h2M977 739.5h2M1097 739.5h3M671 716.5h3M363 830.5h3M375 830.5h2M809 758.5h3M815 758.5h3M821 758.5h3M69 765.5h2M129 765.5h3M581 732.5h3M756 732.5h2M1133 732.5h3M1145 729.5h3M845 753.5h3M659 719.5h3M594 728.5h2M749 728.5h2M1151 728.5h3M267 815.5h3M273 815.5h3M279 815.5h3M285 815.5h2M321 818.5h2M689 713.5h3M695 713.5h3M701 713.5h3M707 713.5h3M713 713.5h3M21 768.5h3M27 768.5h2M33 770.5h3M148 770.5h2M9 766.5h3M63 766.5h3M135 766.5h3M328 821.5h2M369 831.5h3M780 748.5h2M858 748.5h2M1127 733.5h3M797 756.5h3M833 756.5h3M189 791.5h2M647 720.5h3M653 720.5h2M732 720.5h2M623 723.5h3M629 723.5h2M184 789.5h2M357 829.5h2M255 814.5h3M261 814.5h2M237 810.5h3M87 761.5h2M105 761.5h3M611 726.5h2M39 769.5h3M45 769.5h3M51 769.5h2M172 783.5h2M213 802.5h3M207 799.5h2M725 717.5h2M333 822.5h3M393 822.5h2M243 811.5h2M195 793.5h2M641 721.5h3M461 755.5h2M3 764.5h2M123 764.5h3M617 724.5h3M1169 724.5h3M346 827.5h2M202 796.5h2M81 762.5h3M111 762.5h3M485 743.5h2M1007 743.5h2M683 714.5h2M160 776.5h2M226 807.5h2M154 773.5h2M220 804.5h2M249 813.5h3M178 786.5h2M468 750.5h2M340 824.5h2M1141.5 730v1M432.5 782v1M433.5 781v1M727.5 718v1M463.5 754v1M535.5 740v1M245.5 812v1M431.5 783v1M406.5 811v1M407.5 810v1M593.5 729v1M427.5 788v1M412.5 806v1M327.5 820v1M467.5 751v1M631.5 722v1M451.5 764v1M1111.5 737v1M553.5 738v1M1061.5 745v1M450.5 765v1M389.5 825v1M613.5 725v1M473.5 748v1M388.5 826v1M165.5 778v1M857.5 749v1M339.5 823v1M197.5 794v1M287.5 816v1M53.5 768v1M143.5 768v1M761.5 735v1M739.5 723v1M767.5 739v1M1117.5 736v1M731.5 719v1M505.5 739v1M839.5 755v1M1159.5 726v1M71.5 764v1M263.5 815v1M445.5 770v1M755.5 731v1M89.5 760v1M413.5 805v1M785.5 750v1M153.5 772v1M1087.5 740v1M423.5 793v2M487.5 742v1M1013.5 745v1M17.5 768v1M225.5 806v1M411.5 807v1M877.5 741v1M191.5 792v1M419.5 799v1M871.5 743v1M791.5 753v1M29.5 769v1M973.5 739v1M827.5 758v1M851.5 752v1M751.5 729v1M353.5 829v1M405.5 812v1M426.5 789v1M171.5 782v1M565.5 736v1M387.5 827v1M685.5 713v1M479.5 745v1M779.5 747v1M166.5 779v1M167.5 780v1M395.5 821v1M444.5 771v1M439.5 775v1M979.5 740v1M183.5 788v1M577.5 733v1M655.5 719v1M437.5 777v1M438.5 776v1M1121.5 735v1M323.5 819v1M209.5 800v1M5.5 765v1M377.5 829v1M965.5 737v1M895.5 736v1M147.5 769v1M607.5 726v1M219.5 803v1M589.5 730v1M881.5 740v1M177.5 785v1M773.5 743v1M401.5 816v1M745.5 726v1M679.5 714v1M889.5 737v1M345.5 826v1M457.5 759v1M428.5 787v1M1009.5 744v1M422.5 795v1M443.5 772v1M159.5 775v1M1069.5 743v1M418.5 800v1M947.5 735v1M449.5 766v1M233.5 809v1M359.5 830v1M417.5 801v1M959.5 736v1M493.5 741v1M201.5 795v1" fill="none" stroke="#ff0000" stroke-width="1"/>
</g>
<rect x="2" y="2" width="1229" height="1" fill="#000" stroke="none" />
<rect x="2" y="561" width="1229" height="1" fill="#000" stroke="none" />
<rect x="2" y="2" width="1" height="560" fill="#000" stroke="none"/>
<rect x="2" y="563" width="1229" height="1" fill="#000" stroke="none" />
<rect x="2" y="698" width="1229" height="1" fill="#000" stroke="none" />
<rect x="2" y="563" width="1" height="136" fill="#000" stroke="none"/>
<rect x="2" y="700" width="1229" height="1" fill="#000" stroke="none" />
<rect x="2" y="846" width="1229" height="1" fill="#000" stroke="none" />
<rect x="2" y="700" width="1" height="147" fill="#000" stroke="none"/>
<rect x="1230" y="2" width="1" height="560" fill="#000" stroke="none"/>
<rect x="1230" y="563" width="1" height="136" fill="#000" stroke="none"/>
<rect x="1230" y="700" width="1" height="147" fill="#000" stroke="none"/>
<rect x="1231" y="565" width="1" height="1" fill="#000" stroke="none" />
<rect x="1231" y="691" width="1" height="1" fill="#000" stroke="none" />
<rect x="1231" y="697" width="1" height="1" fill="#000" stroke="none" />
<rect x="1231" y="702" width="1" height="1" fill="#000" stroke="none" />
<rect x="1231" y="748" width="1" height="1" fill="#000" stroke="none" />
<rect x="1231" y="845" width="1" height="1" fill="#000" stroke="none" />
<g font-family="Liberation Sans, sans-serif" font-size="9" fill="#000" stroke="#000" stroke-width="0.22" shape-rendering="auto" text-rendering="geometricPrecision">
<rect x="1231" y="30" width="2" height="1" fill="#000" stroke="none" />
<text x="1236.5" y="34">1.37425</text>
<rect x="1231" y="63" width="2" height="1" fill="#000" stroke="none" />
<text x="1236.5" y="67">1.35215</text>
<rect x="1231" y="96" width="2" height="1" fill="#000" stroke="none" />
<text x="1236.5" y="100">1.32940</text>
<rect x="1231" y="162" width="2" height="1" fill="#000" stroke="none" />
<text x="1236.5" y="166">1.28520</text>
<rect x="1231" y="195" width="2" height="1" fill="#000" stroke="none" />
<text x="1236.5" y="199">1.26245</text>
<rect x="1231" y="228" width="2" height="1" fill="#000" stroke="none" />
<text x="1236.5" y="232">1.24035</text>
<rect x="1231" y="261" width="2" height="1" fill="#000" stroke="none" />
<text x="1236.5" y="265">1.21825</text>
<rect x="1231" y="294" width="2" height="1" fill="#000" stroke="none" />
<text x="1236.5" y="298">1.19615</text>
<rect x="1231" y="327" width="2" height="1" fill="#000" stroke="none" />
<text x="1236.5" y="331">1.17340</text>
<rect x="1231" y="360" width="2" height="1" fill="#000" stroke="none" />
<text x="1236.5" y="364">1.15130</text>
<rect x="1231" y="393" width="2" height="1" fill="#000" stroke="none" />
<text x="1236.5" y="397">1.12920</text>
<rect x="1231" y="426" width="2" height="1" fill="#000" stroke="none" />
<text x="1236.5" y="430">1.10710</text>
<rect x="1231" y="459" width="2" height="1" fill="#000" stroke="none" />
<text x="1236.5" y="463">1.08435</text>
<rect x="1231" y="492" width="2" height="1" fill="#000" stroke="none" />
<text x="1236.5" y="496">1.06225</text>
<rect x="1231" y="525" width="2" height="1" fill="#000" stroke="none" />
<text x="1236.5" y="529">1.04015</text>
<rect x="1231" y="558" width="2" height="1" fill="#000" stroke="none" />
<text x="1236.5" y="562">1.01805</text>
<text x="1234.1" y="573.7">104.9179</text>
<text x="1232.8" y="598.7">80</text>
<text x="1232.8" y="634.7">50</text>
<text x="1232.8" y="670.7">20</text>
<text x="1234" y="694.7">0.00</text>
<text x="1234" y="694.7">-4.9961</text>
<text x="1234.1" y="710.7">0.023004</text>
<text x="1233.3" y="751.7">0.00</text>
<text x="1233.3" y="751.7">0</text>
<text x="1233.7" y="842.7">-0.047784</text>
<rect x="1232" y="125" width="41" height="11" fill="#000" stroke="none" shape-rendering="crispEdges"/>
<text x="1236.5" y="134" fill="#fff" stroke="#fff">1.30618</text>
<rect x="1232" y="33" width="41" height="11" fill="#0000ff" stroke="none" shape-rendering="crispEdges"/>
<text x="1236.5" y="42" fill="#fff" stroke="#fff">1.36800</text>
<rect x="1232" y="69" width="41" height="11" fill="#ff0000" stroke="none" shape-rendering="crispEdges"/>
<text x="1236.5" y="78" fill="#fff" stroke="#fff">1.34350</text>
<rect x="1232" y="120" width="41" height="11" fill="#8b4513" stroke="none" shape-rendering="crispEdges"/>
<text x="1236.5" y="129" fill="#fff" stroke="#fff">1.30900</text>
<rect x="1232" y="208" width="41" height="11" fill="#008000" stroke="none" shape-rendering="crispEdges"/>
<text x="1236.5" y="217" fill="#fff" stroke="#fff">1.25000</text>
<rect x="1232" y="266" width="41" height="11" fill="#008000" stroke="none" shape-rendering="crispEdges"/>
<text x="1236.5" y="275" fill="#fff" stroke="#fff">1.21100</text>
<rect x="1232" y="361" width="41" height="11" fill="#008000" stroke="none" shape-rendering="crispEdges"/>
<text x="1236.5" y="370" fill="#fff" stroke="#fff">1.14700</text>
<rect x="3" y="847" width="1" height="3" fill="#000" stroke="none"/>
<text x="2" y="859.3" textLength="51.05" lengthAdjust="spacing">12 Dec 2021</text>
<rect x="67" y="847" width="1" height="3" fill="#000" stroke="none"/>
<text x="66" y="859.3" textLength="47.05" lengthAdjust="spacing">6 Feb 2022</text>
<rect x="131" y="847" width="1" height="3" fill="#000" stroke="none"/>
<text x="130" y="859.3" textLength="46.05" lengthAdjust="spacing">3 Apr 2022</text>
<rect x="195" y="847" width="1" height="3" fill="#000" stroke="none"/>
<text x="194" y="859.3" textLength="54.55" lengthAdjust="spacing">29 May 2022</text>
<rect x="259" y="847" width="1" height="3" fill="#000" stroke="none"/>
<text x="258" y="859.3" textLength="46.8" lengthAdjust="spacing">24 Jul 2022</text>
<rect x="323" y="847" width="1" height="3" fill="#000" stroke="none"/>
<text x="322" y="859.3" textLength="51.3" lengthAdjust="spacing">18 Sep 2022</text>
<rect x="387" y="847" width="1" height="3" fill="#000" stroke="none"/>
<text x="386" y="859.3" textLength="53.8" lengthAdjust="spacing">13 Nov 2022</text>
<rect x="451" y="847" width="1" height="3" fill="#000" stroke="none"/>
<text x="450" y="859.3" textLength="45.3" lengthAdjust="spacing">8 Jan 2023</text>
<rect x="515" y="847" width="1" height="3" fill="#000" stroke="none"/>
<text x="514" y="859.3" textLength="47.05" lengthAdjust="spacing">5 Mar 2023</text>
<rect x="579" y="847" width="1" height="3" fill="#000" stroke="none"/>
<text x="578" y="859.3" textLength="51.55" lengthAdjust="spacing">30 Apr 2023</text>
<rect x="643" y="847" width="1" height="3" fill="#000" stroke="none"/>
<text x="642" y="859.3" textLength="49.8" lengthAdjust="spacing">25 Jun 2023</text>
<rect x="707" y="847" width="1" height="3" fill="#000" stroke="none"/>
<text x="706" y="859.3" textLength="53.05" lengthAdjust="spacing">20 Aug 2023</text>
<rect x="771" y="847" width="1" height="3" fill="#000" stroke="none"/>
<text x="770" y="859.3" textLength="50.8" lengthAdjust="spacing">15 Oct 2023</text>
<rect x="835" y="847" width="1" height="3" fill="#000" stroke="none"/>
<text x="834" y="859.3" textLength="51.55" lengthAdjust="spacing">10 Dec 2023</text>
<rect x="899" y="847" width="1" height="3" fill="#000" stroke="none"/>
<text x="898" y="859.3" textLength="47.55" lengthAdjust="spacing">4 Feb 2024</text>
<rect x="963" y="847" width="1" height="3" fill="#000" stroke="none"/>
<text x="962" y="859.3" textLength="52.8" lengthAdjust="spacing">31 Mar 2024</text>
<rect x="1027" y="847" width="1" height="3" fill="#000" stroke="none"/>
<text x="1026" y="859.3" textLength="55.3" lengthAdjust="spacing">26 May 2024</text>
<rect x="1091" y="847" width="1" height="3" fill="#000" stroke="none"/>
<text x="1090" y="859.3" textLength="47.05" lengthAdjust="spacing">21 Jul 2024</text>
<rect x="1155" y="847" width="1" height="3" fill="#000" stroke="none"/>
<text x="1154" y="859.3" textLength="52.05" lengthAdjust="spacing">15 Sep 2024</text>
<path d="M5 9h8l-4 4z" fill="#000" stroke="none" shape-rendering="crispEdges"/>
<text x="18.5" y="14" textLength="72" lengthAdjust="spacing">GBPUSD,Weekly</text>
<text x="96.7" y="14">1.31094</text>
<text x="132.9" y="14">1.31339</text>
<text x="168.9" y="14">1.30126</text>
<text x="205" y="14">1.30618</text>
<text x="7.2" y="576">Stoch(23,4,4)</text><text x="64.7" y="576">83.9825</text><text x="100.7" y="576">88.4144</text>
<text x="7" y="713" textLength="65.5" lengthAdjust="spacing">MACD(12,26,9)</text><text x="76" y="713" textLength="37.5" lengthAdjust="spacing">0.014368</text><text x="117.2" y="713" textLength="37.5" lengthAdjust="spacing">0.012892</text>
</g>
</svg></body></html>
